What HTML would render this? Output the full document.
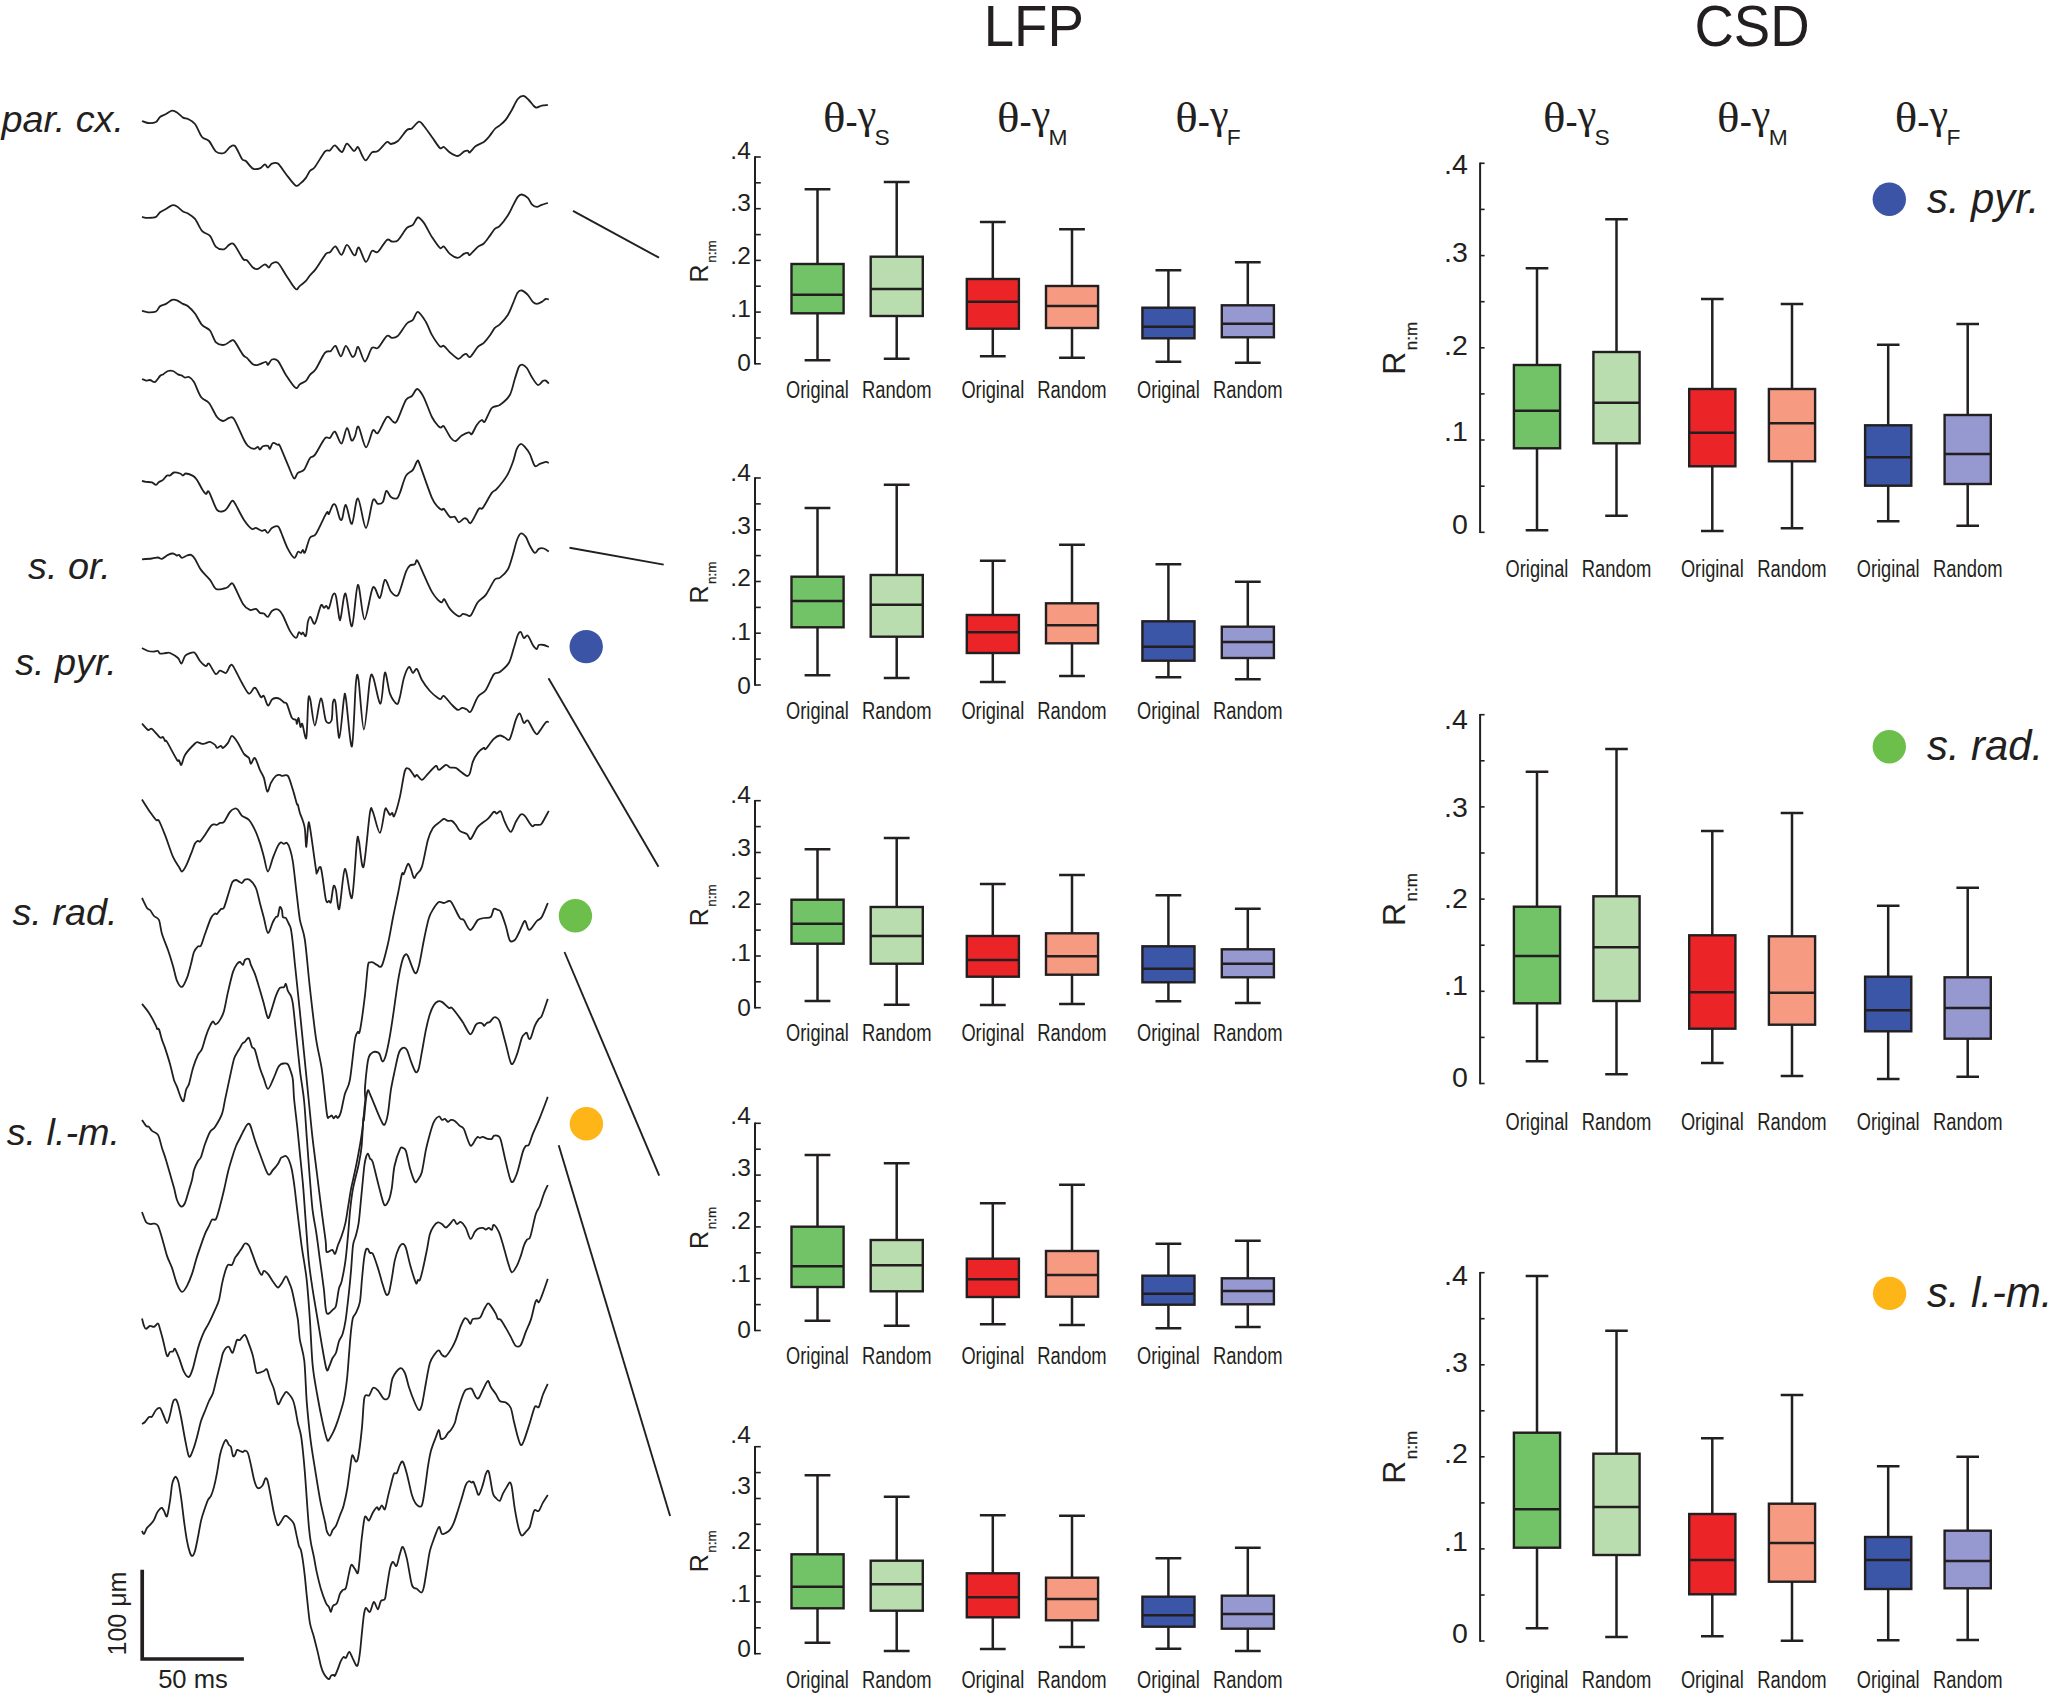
<!DOCTYPE html>
<html><head><meta charset="utf-8"><title>LFP / CSD phase coupling</title>
<style>html,body{margin:0;padding:0;background:#fff}svg{display:block}</style></head>
<body>
<svg width="2051" height="1696" viewBox="0 0 2051 1696">
<rect width="2051" height="1696" fill="#fff"/>
<g fill="none" stroke="#231f20" stroke-width="1.8" stroke-linejoin="round" stroke-linecap="butt">
<path d="M142,121C142.9,121.3 145.8,122.8 148,123C150.2,123.2 154.2,122.9 156,122C157.8,121.1 158.5,118.2 160,117C161.5,115.8 164.2,115 166,114C167.8,113 170.3,110.8 172,110.6C173.7,110.4 175.3,111.3 177,112.4C178.7,113.5 181.3,116.6 183,117.6C184.7,118.6 186.2,118 188,119C189.8,120 192.8,121.2 195,124C197.2,126.8 199.8,134.4 202,137C204.2,139.6 206.8,138.8 209,141C211.2,143.2 213.7,149.8 216,151.6C218.3,153.4 221.8,153.7 224,153C226.2,152.3 228.3,148.1 230,147C231.7,145.9 233.2,144.2 235,146C236.8,147.8 240.3,156.7 242,159C243.7,161.3 244.2,159.5 245.9,161C247.6,162.5 250.7,167.5 252.9,168.6C255.1,169.7 258.1,169 259.9,168.4C261.7,167.8 263.7,164.5 264.9,164.4C266.1,164.3 266.8,167.7 267.9,167.6C269,167.5 270.4,164.2 271.9,163.6C273.4,163 275.7,162 277.9,163.6C280.1,165.2 283.2,170.6 285.9,174C288.6,177.4 293.3,184 295.5,185.5C297.7,187 298.3,185.1 299.9,183.9C301.5,182.7 304.4,179.9 305.9,177.9C307.4,175.9 308.5,172.7 309.9,171C311.3,169.3 312.6,170 314.9,167C317.2,164 322.6,154.2 324.9,151.6C327.2,149 328.4,151.4 329.9,150.4C331.4,149.4 333.1,145.2 334.9,145.4C336.7,145.6 340.1,152.3 341.9,152C343.7,151.7 345.1,143.8 346.9,143.6C348.7,143.4 352.2,150.5 353.9,151C355.6,151.5 356.7,146.4 357.9,147C359.1,147.6 360.7,152.9 361.9,155C363.1,157.1 364.4,160.8 365.9,160.4C367.4,160 370.1,153.8 371.9,152.4C373.7,151 375.6,152.6 377.9,151C380.2,149.4 384.9,143.1 386.9,142C388.9,140.9 389.2,144.2 390.9,144C392.6,143.8 395.4,143.2 397.9,141C400.4,138.8 404.7,131.9 406.9,130C409.1,128.1 410.1,129.7 411.9,128.4C413.7,127.1 417.1,122 418.9,121.6C420.7,121.2 421.9,123.6 423.9,126C425.9,128.4 429.4,133.6 431.9,137C434.4,140.4 438.1,146.5 439.9,148C441.7,149.5 442.4,146.3 443.9,147C445.4,147.7 447.8,151 449.9,152.4C452,153.8 455.7,156.1 457.8,156C459.9,155.9 462.3,152.4 463.8,151.6C465.3,150.8 466.9,150.5 467.8,150.6C468.7,150.7 468.6,153.1 469.8,152.4C471,151.7 473.6,147.6 475.8,146C478,144.4 481.8,143.4 483.8,142C485.8,140.6 487.1,139 488.8,137C490.5,135 493.1,130.8 494.8,129C496.5,127.2 498.1,126.8 499.8,125.4C501.5,124 504,122 505.8,119.6C507.6,117.2 510,113.2 511.8,110C513.6,106.8 516,101.2 517.8,99C519.6,96.8 522.1,95.8 523.8,96C525.5,96.2 527.3,98.5 528.8,100C530.3,101.5 532.6,104.8 533.8,106C535,107.2 535.6,107.7 536.8,107.6C538,107.5 540.1,106 541.8,105.6C543.5,105.2 546.9,105.1 547.8,105"/>
<path d="M142,216.9C142.9,217.1 145.8,217.9 148,217.9C150.2,217.9 154.2,217.8 156,216.9C157.8,216 158.5,213.5 160,212.3C161.5,211.1 164.2,210 166,208.9C167.8,207.8 170.3,205.7 172,205.3C173.7,204.9 175.3,205.5 177,206.5C178.7,207.5 181.3,210.4 183,211.5C184.7,212.6 186.2,212.4 188,213.5C189.8,214.6 192.8,216.2 195,218.9C197.2,221.6 199.7,228.3 202,230.9C204.3,233.5 207.8,233.4 210,235.9C212.2,238.4 213.8,244.8 216,246.9C218.2,249 222,249.6 224,249.3C226,249 227.5,245.7 229,244.9C230.5,244.1 231.8,242.1 234,244.3C236.2,246.5 241,256.4 243,258.9C245,261.4 245.4,259 246.9,260.3C248.4,261.6 251.2,266.2 252.9,267.5C254.6,268.8 256.1,269.4 257.9,268.9C259.7,268.4 263.2,264.5 264.9,264.3C266.6,264.1 267.8,267.6 268.9,267.5C270,267.4 270.5,264.2 271.9,263.5C273.3,262.8 275.7,261.1 277.9,262.9C280.1,264.7 283.2,270.9 285.9,274.9C288.6,278.9 293.3,287.2 295.5,288.9C297.7,290.6 298.3,287.1 299.9,285.9C301.5,284.7 304.4,282.5 305.9,280.9C307.4,279.3 308.4,277.3 309.9,275.5C311.4,273.7 313.4,272.2 315.9,268.9C318.4,265.6 323.7,256.5 325.9,253.9C328.1,251.3 328.4,253.4 329.9,252.3C331.4,251.2 333.7,246.1 335.5,246.5C337.3,246.9 339.7,255.1 341.5,254.9C343.3,254.7 345.1,245.1 346.9,244.9C348.7,244.7 351.6,252.4 352.9,253.9C354.2,255.4 354.6,255.9 355.5,254.9C356.4,253.9 357.3,246.4 358.9,247.5C360.5,248.6 363.9,261.4 365.9,261.9C367.9,262.4 370.1,252.4 371.9,250.9C373.7,249.4 375.6,253.6 377.9,251.9C380.2,250.2 384.7,241.5 386.9,239.9C389.1,238.3 390.2,241.4 391.9,241.5C393.6,241.6 395.6,242.4 397.9,240.3C400.2,238.2 404.6,230.3 406.9,227.9C409.2,225.5 411.2,226.5 412.9,224.9C414.6,223.3 416.2,217.8 417.9,217.5C419.6,217.2 421.7,219.9 423.9,222.9C426.1,225.9 429.4,233.1 431.9,236.9C434.4,240.7 438.1,246.4 439.9,247.9C441.7,249.4 442.4,245.6 443.9,246.5C445.4,247.4 447.8,252.1 449.9,253.9C452,255.7 455.7,257.9 457.8,257.9C459.9,257.9 462.3,254.7 463.8,253.9C465.3,253.1 466.9,252.7 467.8,252.9C468.7,253.1 468.3,255.8 469.8,254.9C471.3,254 475.6,248.7 477.8,246.9C480,245.1 482,245.2 483.8,243.5C485.6,241.8 488.1,238.1 489.8,235.9C491.5,233.7 493.3,230.4 494.8,228.9C496.3,227.4 497.8,228 499.8,225.9C501.8,223.8 505.8,218.6 507.8,215.5C509.8,212.4 511.3,208.8 512.8,205.9C514.3,203 516.4,198.7 517.8,196.9C519.2,195.1 520.3,194.3 521.8,194.5C523.3,194.7 526.3,196.4 527.8,197.9C529.3,199.4 530.4,202.9 531.8,204.3C533.2,205.7 535.3,206.8 536.8,206.9C538.3,207 540.1,205.5 541.8,204.9C543.5,204.3 546.9,203.2 547.8,202.9"/>
<path d="M142,310.9C142.9,311.1 145.8,312.2 148,312.3C150.2,312.4 154.2,312.4 156,311.5C157.8,310.6 158.5,307.5 160,306.3C161.5,305.1 164.2,304.9 166,303.9C167.8,302.9 170.3,300.5 172,299.9C173.7,299.3 175.3,299.7 177,300.3C178.7,300.9 181.3,303 183,303.9C184.7,304.8 186.2,304.8 188,306.3C189.8,307.8 192.8,310.6 195,313.5C197.2,316.4 199.7,322.3 202,324.9C204.3,327.5 207.8,327.8 210,330.5C212.2,333.2 213.8,340.1 216,342.3C218.2,344.5 221.5,345.2 224,344.9C226.5,344.6 230.3,340.8 232,340.3C233.7,339.8 233.3,339.7 235,341.9C236.7,344.1 241.2,352.4 243,354.9C244.8,357.4 245.4,356.5 246.9,357.9C248.4,359.3 251.2,363.2 252.9,364.3C254.6,365.4 255.9,365.3 257.9,364.9C259.9,364.5 264.4,361.9 265.9,361.9C267.4,361.9 267,365.3 267.9,364.9C268.8,364.5 270.4,360.1 271.9,359.5C273.4,358.9 275.7,358.5 277.9,360.9C280.1,363.3 283.2,370.8 285.9,374.9C288.6,379 293.3,386.4 295.5,387.8C297.7,389.2 298.3,385.3 299.9,384.2C301.5,383.1 304.4,382.3 305.9,380.9C307.4,379.5 308.4,376.7 309.9,374.9C311.4,373.1 313.6,372.3 315.9,368.9C318.2,365.5 322.6,355.7 324.9,352.9C327.2,350.1 329.3,352 330.9,350.9C332.5,349.8 334,345.1 335.5,345.9C337,346.7 339.3,356.3 340.9,356.3C342.5,356.3 344.2,345.9 345.9,345.9C347.6,345.9 350.5,354.9 351.9,356.3C353.3,357.7 353.9,356.3 354.9,354.9C355.9,353.5 356.8,345.9 358.3,346.9C359.8,347.9 362.8,361.3 364.9,361.5C367,361.7 369.9,350 371.9,347.9C373.9,345.8 375.6,349.7 377.9,347.9C380.2,346.1 384.7,337.4 386.9,335.9C389.1,334.4 390.2,337.9 391.9,337.9C393.6,337.9 395.6,338.1 397.9,335.9C400.2,333.7 404.6,326 406.9,323.5C409.2,321 411.2,321.7 412.9,319.9C414.6,318.1 415.9,311.6 417.9,311.9C419.9,312.2 423.7,318.4 425.9,321.9C428.1,325.4 429.7,331.1 431.9,334.9C434.1,338.7 438.1,344.6 439.9,346.3C441.7,348 442.4,345 443.9,345.9C445.4,346.8 447.7,350.3 449.9,352.3C452.1,354.3 456.2,358.4 458.2,358.9C460.2,359.4 461.6,356.3 462.8,355.5C464,354.7 465.1,353.7 466.2,353.9C467.3,354.1 468.4,358 470.2,356.9C472,355.8 475.7,349.1 477.8,346.9C479.9,344.7 482,344.7 483.8,342.9C485.6,341.1 488.1,337.8 489.8,335.5C491.5,333.2 493.3,329.6 494.8,327.9C496.3,326.2 497.8,326.3 499.8,324.3C501.8,322.3 505.8,318 507.8,314.9C509.8,311.8 511.3,307.3 512.8,303.9C514.3,300.5 516,295 517.4,292.9C518.8,290.8 520.2,290.2 521.8,290.5C523.4,290.8 526.1,293.1 527.8,294.9C529.5,296.7 531.4,300.5 532.8,301.9C534.2,303.3 535.4,303.9 536.8,303.9C538.2,303.9 540.4,302.7 541.8,301.9C543.2,301.1 544.7,299.3 545.8,298.9C546.9,298.5 548.3,299.4 548.8,299.5"/>
<path d="M142,379C142.6,379.2 144.8,380.4 146,380.6C147.2,380.8 148.6,379.8 150,380C151.4,380.2 153.5,382.6 155,382C156.5,381.4 158.8,377.2 160,376C161.2,374.8 161.8,375.2 163,374.4C164.2,373.6 166.5,371.5 168,371C169.5,370.5 171.5,370.5 173,371C174.5,371.5 176.6,373.7 178,374.4C179.4,375.1 180.9,375.1 182,375.6C183.1,376.1 183.9,377.4 185,377.6C186.1,377.8 187.6,376.3 189,377C190.4,377.7 192.2,378.9 194,382C195.8,385.1 198.7,393.8 201,397C203.3,400.2 206.5,399.9 209,403C211.5,406.1 214.8,414.2 217,417C219.2,419.8 221.2,420.8 223,421C224.8,421.2 227.3,418.3 229,418C230.7,417.7 231.7,415.6 234,419C236.3,422.4 241.9,435.9 244,440C246.1,444.1 246.4,444.5 247.9,445.9C249.4,447.3 252.4,448.7 253.9,448.9C255.4,449.1 257,446.8 257.9,446.9C258.8,447 259.1,449.6 259.9,449.5C260.7,449.4 261.7,446.9 262.9,446.3C264.1,445.7 266.8,445.5 267.9,445.9C269,446.3 269.1,449.3 269.9,448.9C270.7,448.5 271.7,443.6 272.9,443C274.1,442.4 276.8,444.5 277.9,444.9C279,445.3 278.4,442.8 279.9,445.9C281.4,449 285.7,459.9 287.9,464.9C290.1,469.9 292.4,477.1 293.9,478.3C295.4,479.5 296.4,474.2 297.9,472.9C299.4,471.6 302.1,472.1 303.9,469.9C305.7,467.7 308.2,460.6 309.9,458.3C311.6,456 312.6,458 314.9,454.9C317.2,451.8 322.6,441 324.9,438.4C327.2,435.8 328.4,439 329.9,438C331.4,437 333.1,430.7 334.9,431.6C336.7,432.5 339.7,444.2 341.5,443.6C343.3,443 345.4,428.5 346.9,428C348.4,427.5 350.3,439.1 351.5,440.4C352.7,441.7 353.8,438.5 354.9,436.4C356,434.3 356.8,424.9 358.5,426.6C360.2,428.3 363.7,446.7 365.9,447.3C368.1,447.9 371.1,432.6 372.9,430.4C374.7,428.2 375.7,435.1 377.9,433C380.1,430.9 384.6,418.8 386.9,417C389.2,415.2 391.4,421 392.9,421.6C394.4,422.2 394.9,424.3 396.9,421C398.9,417.7 403.6,403.8 405.9,400C408.2,396.2 410.1,397.7 411.9,396C413.7,394.3 415.5,388.8 417.3,389C419.1,389.2 421.7,393.3 423.9,397.6C426.1,401.9 429.7,412.7 431.9,417C434.1,421.3 436.5,424 437.9,425.6C439.3,427.2 440,427.5 440.9,427.6C441.8,427.7 442.4,424.8 443.9,426.4C445.4,428 449.1,435.8 450.9,438C452.7,440.2 454.1,441.4 455.8,441C457.5,440.6 459.8,436.9 461.8,435.6C463.8,434.3 467.3,432.6 468.8,432.4C470.3,432.2 470.6,435.1 471.8,434C473,432.9 475.3,427.2 476.8,425C478.3,422.8 480.6,420.5 481.8,420C483,419.5 483.3,423.4 484.8,421.6C486.3,419.8 489.5,410.6 491.8,408C494.1,405.4 497,407 499.8,405C502.6,403 507.5,399 509.8,395C512.1,391 513.4,383.3 514.8,379C516.2,374.7 517.7,369.2 518.8,367C519.9,364.8 521,364.4 522.2,364.6C523.4,364.8 525.3,366.1 526.8,368C528.3,369.9 530.1,374.4 531.8,377C533.5,379.6 536.1,384.4 537.8,385C539.5,385.6 541.6,381.7 542.8,381C544,380.3 544.9,380.2 545.8,380.6C546.7,381 548.3,383.1 548.8,383.6"/>
<path d="M142,480.9C142.6,481.1 144.5,481.7 146,481.9C147.5,482.1 150.5,481.8 152,482.3C153.5,482.8 154.9,485 156,484.9C157.1,484.8 157.9,482.7 159,481.9C160.1,481.1 161.8,480.9 163,479.9C164.2,478.9 165.9,476.2 167,475.5C168.1,474.8 168.9,476 170,475.5C171.1,475 172.5,472.8 174,472.5C175.5,472.2 178.6,473 180,473.5C181.4,474 182.1,475.5 183,475.5C183.9,475.5 184.5,473.4 186,473.5C187.5,473.6 191.3,474.9 193,475.9C194.7,476.9 195.6,477.9 197,479.9C198.4,481.9 200.6,486.7 202,488.9C203.4,491.1 204.9,493.4 206,493.9C207.1,494.4 207.3,489.4 209,491.9C210.7,494.4 214.7,507 217,509.9C219.3,512.8 222.3,511.4 224,510.9C225.7,510.4 226.8,508.4 228,506.9C229.2,505.4 230.9,501.4 232,500.9C233.1,500.4 233.2,500.6 235,503.5C236.8,506.4 241.4,516 244,519.9C246.6,523.8 250.1,527.7 251.9,528.9C253.7,530.1 254.4,527.6 255.9,527.9C257.4,528.2 260.5,530.6 261.9,530.9C263.3,531.2 264,529.6 264.9,529.9C265.8,530.2 266.8,533.2 267.9,532.9C269,532.6 270.4,528.9 271.9,527.9C273.4,526.9 276.5,525.7 277.9,526.3C279.3,526.9 279.4,528.4 280.9,531.9C282.4,535.4 285.8,544.9 287.9,548.9C290,552.9 292.8,557.4 294.3,557.9C295.8,558.4 296.9,552.7 297.9,551.9C298.9,551.1 300.1,553.2 300.9,552.9C301.7,552.6 302.3,550 302.9,549.9C303.5,549.8 303.8,554.3 304.9,552.5C306,550.7 308.2,540.8 309.9,537.9C311.6,535 313.6,537.3 315.9,533.9C318.2,530.5 323.1,519.3 324.9,515.9C326.7,512.5 326.9,512.2 327.5,511.9C328.1,511.6 328.1,515 328.9,513.9C329.7,512.8 331.8,506.1 332.9,504.9C334,503.7 334.8,503.7 335.9,505.9C337,508.1 338.9,517 339.9,518.9C340.9,520.8 341.4,520.5 342.3,518.3C343.2,516.1 344.4,504 345.9,504.9C347.4,505.8 350.1,524.9 351.9,523.9C353.7,522.9 355.7,497.7 357.9,498.3C360.1,498.9 363.6,527.6 365.9,527.9C368.2,528.2 371.1,504 372.9,500.3C374.7,496.6 376.4,503.7 377.9,503.9C379.4,504.1 381.6,503.9 382.9,501.9C384.2,499.9 385.1,491.7 386.3,490.9C387.5,490.1 389.3,495.8 390.9,496.9C392.5,498 395.5,498.9 396.9,498.3C398.3,497.7 398.5,496.3 399.9,492.9C401.3,489.5 403.9,479.4 405.9,475.9C407.9,472.4 411.1,472.2 412.9,469.9C414.7,467.6 416.2,461.7 417.3,460.9C418.4,460.1 417.7,459.2 419.9,464.9C422.1,470.6 429.1,491.4 431.9,497.9C434.7,504.4 436.4,505.1 437.9,506.9C439.4,508.7 441,509.6 441.9,509.9C442.8,510.2 442.7,507.8 443.9,508.9C445.1,510 448.2,515.7 449.9,516.9C451.6,518.1 453.4,516.1 454.8,516.9C456.2,517.7 457.4,522.1 458.8,522.3C460.2,522.5 462.6,519 463.8,518.5C465,518 465.7,518.2 466.8,518.9C467.9,519.6 469,524.4 470.8,522.9C472.6,521.4 477,511.2 478.8,508.9C480.6,506.6 480.8,510.4 482.8,507.9C484.8,505.4 489.6,495.8 491.8,492.9C494,490 494.5,491.5 496.8,488.9C499.1,486.3 504.3,480 506.8,475.9C509.3,471.8 511.3,466.5 512.8,462.3C514.3,458.1 515.6,451.7 516.8,448.9C518,446.1 519.6,444.3 520.8,444C522,443.7 523.4,445.4 524.8,446.9C526.2,448.4 528.3,451 529.8,453.9C531.3,456.8 533.3,464.4 534.8,465.9C536.3,467.4 538.1,464.5 539.8,463.9C541.5,463.3 544.4,462.1 545.8,461.9C547.2,461.7 548.3,462.7 548.8,462.9"/>
<path d="M142,559.3C143.5,559.2 149.5,558.8 152,558.5C154.5,558.2 156.5,557.4 158,557.5C159.5,557.6 160.5,559.3 162,558.9C163.5,558.5 166.3,555.7 168,554.9C169.7,554.1 171.6,553.4 173,553.5C174.4,553.6 176.1,555.3 177,555.5C177.9,555.7 178.2,554.5 179,554.9C179.8,555.3 180.8,557.8 182,557.9C183.2,558 185.6,556 187,555.5C188.4,555 189.8,554.4 191,554.9C192.2,555.4 193.5,556.6 195,558.9C196.5,561.2 198.7,566.7 201,569.9C203.3,573.1 207.7,577 210,579.9C212.3,582.8 213.8,587.6 216,588.9C218.2,590.2 222.2,588.8 224,588.5C225.8,588.2 226.8,587.7 228,586.9C229.2,586.1 230.7,583.5 231.6,583.3C232.5,583.1 232.2,582.3 234,585.5C235.8,588.7 240.6,600.1 243,603.9C245.4,607.7 247.9,609.1 249.9,609.9C251.9,610.7 254.4,608.4 255.9,608.9C257.4,609.4 258.7,612.2 259.9,612.9C261.1,613.6 262.7,612.9 263.9,613.5C265.1,614.1 266.7,617.3 267.9,616.9C269.1,616.5 270.4,612 271.9,610.9C273.4,609.8 276.2,608.8 277.9,609.5C279.6,610.2 281.1,612.2 282.9,615.5C284.7,618.8 287.9,627.5 289.9,630.9C291.9,634.3 294.5,637.7 295.9,637.9C297.3,638.1 298,632.9 298.9,632.3C299.8,631.7 300.9,634.3 301.5,634.3C302.1,634.3 302.2,632.3 302.9,632.5C303.6,632.7 305.1,637.5 305.9,635.9C306.7,634.3 307.2,624.8 307.9,621.9C308.6,619 309.4,616.7 310.5,616.9C311.6,617.1 313.3,625.3 314.9,623.5C316.5,621.7 319.5,607.9 320.9,605.5C322.3,603.1 323.1,607.8 323.9,607.9C324.7,608 325.5,605.8 326.3,605.9C327.1,606 327.9,610 328.9,608.3C329.9,606.6 331.8,596.8 332.9,594.9C334,593 334.9,592.3 335.9,595.9C336.9,599.5 338.5,615.1 339.3,618.3C340.1,621.5 339.9,620.7 340.9,616.9C341.9,613.1 343.8,592.1 345.5,593.5C347.2,594.9 350,627.6 351.9,626.3C353.8,625 356,586 357.9,584.9C359.8,583.8 362.2,618.9 364.5,619.3C366.8,619.7 370.5,590.8 372.9,587.5C375.3,584.2 378.1,599.1 379.9,597.9C381.7,596.7 383.2,580.9 384.9,579.9C386.6,578.9 389.1,589 390.9,591.5C392.7,594 395.5,596 396.9,595.9C398.3,595.8 398.5,594.6 399.9,590.9C401.3,587.2 404.4,575.8 405.9,571.9C407.4,568 408.5,566.7 409.9,565.5C411.3,564.3 413.8,565.1 414.9,564.3C416,563.5 415.9,558.9 417.3,560.5C418.7,562.1 421.7,570.1 423.9,574.9C426.1,579.7 429.7,588.1 431.9,591.9C434.1,595.7 436.4,598.3 437.9,599.9C439.4,601.5 440.9,602.4 441.9,602.3C442.9,602.2 443.1,598.3 444.3,599.3C445.5,600.3 447.7,606.3 449.9,608.9C452.1,611.5 456.8,615.5 458.8,616.3C460.8,617.1 461.6,614.1 462.8,613.9C464,613.7 465.6,614.7 466.8,614.9C468,615.1 469.1,617.2 470.8,615.3C472.5,613.4 475.5,605.4 477.8,602.3C480.1,599.2 483.2,598.4 485.8,594.9C488.4,591.4 492.6,582.1 494.8,579.5C497,576.9 497.8,579.4 499.8,577.9C501.8,576.4 505.8,573 507.8,569.5C509.8,566 511.4,559.4 512.8,554.9C514.2,550.4 515.6,543.8 516.8,540.5C518,537.2 519.4,534.1 520.8,533.5C522.2,532.9 524.4,535.1 525.8,536.9C527.2,538.7 528.4,543 529.8,545.5C531.2,548 533.4,552.4 534.8,552.9C536.2,553.4 537.4,549.6 538.8,548.9C540.2,548.2 542.3,548.1 543.8,548.5C545.3,548.9 548,551 548.8,551.5"/>
<path d="M142,648C142.9,648.5 146.2,650.4 148,651C149.8,651.6 152.5,651.6 154,651.6C155.5,651.6 157.1,650.7 158,651C158.9,651.3 158.8,653.3 160,653.6C161.2,653.9 164.5,653.1 166,653C167.5,652.9 168.2,652.2 170,653C171.8,653.8 176.2,656.4 178,658C179.8,659.6 180.3,663.9 181.4,663.6C182.5,663.3 183.8,657.5 185,656C186.2,654.5 187.6,654.1 189,653.6C190.4,653.1 192.7,651.5 194.4,652.6C196.1,653.7 198.5,659.1 200,661C201.5,662.9 203,664.2 204,665C205,665.8 205.6,666.2 206.4,666C207.2,665.8 207.6,662.4 209,663.6C210.4,664.8 213.9,672.9 215.6,674C217.3,675.1 218.4,670.8 220,670.6C221.6,670.4 224.5,673.7 226,673C227.5,672.3 228.9,667.1 230,666C231.1,664.9 231.2,663.4 233,666C234.8,668.6 239.6,678.8 242,683C244.4,687.2 247.1,692.8 248.9,693.6C250.7,694.4 252.8,688.7 253.9,688C255,687.3 255.2,687.6 256.3,689C257.4,690.4 259.7,695.9 260.9,697C262.1,698.1 262.8,694.7 263.9,696C265,697.3 266.7,704.9 267.9,705.5C269.1,706.1 270.7,700.8 271.9,699.6C273.1,698.4 274.7,698.1 275.9,698C277.1,697.9 278.7,698.3 279.9,699C281.1,699.7 282.8,701.6 283.9,702.4C285,703.2 285.7,701.6 286.9,704C288.1,706.4 290.5,715.5 291.9,717.9C293.3,720.3 295.1,719 295.9,719.9C296.7,720.8 296.5,724.2 296.9,723.9C297.3,723.6 297.9,717.4 298.5,717.9C299.1,718.4 299.9,726 300.5,726.9C301.1,727.8 301.4,722.2 302.3,723.9C303.2,725.6 305.4,741.6 306.3,737.9C307.2,734.2 307.7,705.9 308.3,700C308.9,694.1 309.3,695.7 310.3,699.6C311.3,703.5 313.3,725.7 314.9,725.5C316.5,725.3 319.2,699.1 320.9,698.4C322.6,697.7 324.3,717.5 325.9,720.9C327.5,724.3 330.4,723.3 331.5,720.5C332.6,717.7 332.3,705.4 332.9,702.6C333.5,699.8 334.5,697.2 335.5,702.6C336.5,708 338,738.5 339.3,737.9C340.6,737.3 342.9,705.1 343.9,699C344.9,692.9 344.7,691.1 345.9,698.4C347.1,705.7 350.4,748.9 351.9,746.5C353.4,744.1 354.9,693.3 355.9,683C356.9,672.7 357.3,672.4 358.5,679.6C359.7,686.8 362.1,729.4 363.9,729.5C365.7,729.6 368.5,688 369.9,680C371.3,672 371.7,674 373.3,677.6C374.9,681.2 378.7,704.4 380.5,703.6C382.3,702.8 383.5,674.1 384.9,672.6C386.3,671.1 388.1,688.8 389.9,693.6C391.7,698.4 395.4,703.5 396.9,704C398.4,704.5 398.8,701 399.9,697C401,693 402.5,682.6 403.9,678C405.3,673.4 407.5,667.8 408.9,667C410.3,666.2 411.7,672.7 412.9,673C414.1,673.3 415.5,667.9 416.9,669C418.3,670.1 419.9,676.6 421.9,680C423.9,683.4 427.4,688.2 429.9,691C432.4,693.8 436.2,696.8 437.9,698C439.6,699.2 440,699.3 440.9,699C441.8,698.7 442.2,695.1 443.9,696C445.6,696.9 449.8,702.8 451.9,704.9C454,707 456.2,709.4 457.8,709.9C459.4,710.4 460.8,708 462.2,707.9C463.6,707.8 465.5,708.9 466.8,709.5C468.1,710.1 469.1,713.4 470.8,711.5C472.5,709.6 475.5,700.3 477.8,697C480.1,693.7 483.3,693.5 485.8,690C488.3,686.5 491.6,677.2 493.8,674.4C496,671.6 497.5,673.8 499.8,672C502.1,670.2 506.6,666.7 508.8,663C511,659.3 512.4,652.3 513.8,648C515.2,643.7 516.7,637.5 517.8,635C518.9,632.5 519.9,631.5 520.8,632C521.7,632.5 522.7,637.4 523.8,638C524.9,638.6 526.4,634.5 527.8,635.6C529.2,636.7 531.4,642.9 532.8,645C534.2,647.1 535.9,649 536.8,649C537.7,649 537.7,645.6 538.8,645C539.9,644.4 542.3,644.7 543.8,645C545.3,645.3 548,646.7 548.8,647"/>
<path d="M142,723.5C142.9,724.5 146.5,729.1 148,729.9C149.5,730.7 150.2,727.7 152,728.9C153.8,730.1 158.3,736.3 160,737.5C161.7,738.7 162.2,736.4 163,736.9C163.8,737.4 164.4,740.1 165,740.9C165.6,741.7 165.2,739 167,741.9C168.8,744.8 175.2,757.1 177,759.9C178.8,762.7 178.3,759.5 179,760.3C179.7,761.1 180.5,765.7 181.4,764.9C182.3,764.1 182.9,758.2 185,754.9C187.1,751.6 193,745.4 195,743.5C197,741.6 196.9,742.2 198,742.3C199.1,742.4 200.9,743.7 202,743.9C203.1,744.1 203.8,743.8 205,743.5C206.2,743.2 208.5,741.7 210,741.9C211.5,742.1 213.9,744 215,744.9C216.1,745.8 216.1,747.7 217,747.9C217.9,748.1 220.1,745.9 221,745.9C221.9,745.9 221.9,748.4 223,747.9C224.1,747.4 226.6,744.7 228,742.9C229.4,741.1 230.5,735.9 232,735.9C233.5,735.9 236.2,740.1 238,742.9C239.8,745.7 242.3,751.6 244,753.9C245.7,756.2 247.8,756.4 248.9,757.9C250,759.4 250,763.9 250.9,763.9C251.8,763.9 253.5,757 254.9,757.9C256.3,758.8 258.5,766.8 259.9,769.9C261.3,773 262.8,774.6 263.9,777.9C265,781.2 266.2,790.7 267.3,791.5C268.4,792.3 269.6,785.3 270.9,782.9C272.2,780.5 274.5,777.1 275.9,775.9C277.3,774.7 279,774.9 279.9,774.9C280.8,774.9 280.7,775.7 281.9,775.9C283.1,776.1 286.2,773.7 287.9,775.9C289.6,778.1 291.5,785.6 292.9,789.9C294.3,794.2 296.1,801.6 296.9,803.9C297.7,806.2 297.4,803.5 297.9,804.9C298.4,806.3 299.1,810.4 299.9,812.9C300.7,815.4 302.1,818.4 302.9,820.9C303.7,823.4 304.4,824.9 304.9,828.9C305.4,832.9 305.8,847.5 306.3,846.9C306.8,846.3 307.7,828 308.3,824.9C308.9,821.8 308.7,820.1 309.9,826.9C311.1,833.7 314.8,861.8 315.9,868.9C317,876 316.1,873.1 316.9,872.9C317.7,872.7 319.5,863.7 320.9,867.9C322.3,872.1 324.7,894.8 325.9,899.9C327.1,905 328.1,900.6 328.9,900.9C329.7,901.2 330.2,904.1 330.9,901.9C331.6,899.7 332.7,888.1 333.5,886.3C334.3,884.5 335,886.4 335.9,889.9C336.8,893.4 337.9,912.1 339.3,908.9C340.7,905.7 343,870.6 344.9,868.9C346.8,867.2 350.1,902.1 351.9,897.9C353.7,893.7 355.8,850.7 356.9,841.9C358,833.1 357.9,837.1 358.9,840.9C359.9,844.7 361.8,871.2 363.5,866.9C365.2,862.6 368.5,821.4 369.9,812.9C371.3,804.4 371.4,808.8 372.9,811.9C374.4,815 378.1,833.2 379.9,832.9C381.7,832.6 383.8,813.4 384.9,809.9C386,806.4 386.1,809.1 386.9,809.9C387.7,810.7 389.1,814.4 389.9,814.9C390.7,815.4 391.6,812.7 392.3,812.9C393,813.1 393.1,818.4 394.3,815.9C395.5,813.4 398.3,803.8 399.9,796.9C401.5,790 403.5,775.2 404.9,770.9C406.3,766.6 407.7,768.4 408.9,768.9C410.1,769.4 412,772.7 412.9,773.9C413.8,775.1 414.3,776.7 414.9,776.9C415.5,777.1 415.8,774.4 416.9,774.9C418,775.4 420.2,780.1 421.9,779.9C423.6,779.7 425.7,776.1 427.9,773.9C430.1,771.7 434.2,766.5 435.9,765.9C437.6,765.3 437.4,770.1 438.9,769.9C440.4,769.7 444.2,765.3 445.9,764.9C447.6,764.5 448.4,767 449.9,767.5C451.4,768 454.3,767.4 455.8,767.9C457.3,768.4 458.1,769.7 459.8,770.9C461.5,772.1 465.3,775.5 466.8,775.9C468.3,776.3 468.9,775.7 469.8,773.5C470.7,771.3 471.6,765.1 472.8,761.9C474,758.7 476.1,755.1 477.8,752.9C479.5,750.7 482.6,748.5 483.8,747.9C485,747.3 484.3,750.3 485.8,748.9C487.3,747.5 491.6,741 493.8,738.9C496,736.8 498.1,735.7 499.8,735.5C501.5,735.3 503.3,737 504.8,737.5C506.3,738 508.1,741.6 509.8,738.9C511.5,736.2 514.3,723.8 515.8,719.9C517.3,716 518.6,713 519.8,713.5C521,714 522.6,721.8 523.8,722.9C525,724 526.3,719.3 527.8,720.5C529.3,721.7 532.4,728.8 533.8,730.9C535.2,733 535.9,734.3 536.8,734.3C537.7,734.3 538.4,732.7 539.8,730.9C541.2,729.1 544.4,723.7 545.8,722.3C547.2,720.9 548.3,722 548.8,721.9"/>
<path d="M142,799.5C143.2,801.4 147.8,808.8 150,811.9C152.2,815 154.6,818.5 156,819.9C157.4,821.3 157.6,818.6 159,820.9C160.4,823.2 162.8,829.4 165,834.9C167.2,840.4 170.8,852 173,856.9C175.2,861.8 177.6,864.7 179,866.9C180.4,869.1 180.9,871.7 182,871.5C183.1,871.3 184.6,868.6 186,865.9C187.4,863.2 189.6,857.3 191,853.9C192.4,850.5 193.9,845.5 195,843.5C196.1,841.5 197.2,841.2 198,840.9C198.8,840.6 198.9,842.4 200,841.5C201.1,840.6 203.3,837.3 205,834.9C206.7,832.5 209.6,827.5 211,825.9C212.4,824.3 213.1,824.5 214,824.3C214.9,824.1 216.1,825.1 217,824.9C217.9,824.7 218.9,823.4 220,822.9C221.1,822.4 222.5,823.6 224,821.9C225.5,820.2 228.3,814 230,811.9C231.7,809.8 233.8,808.8 235,808.5C236.2,808.2 236.9,808.8 238,809.9C239.1,811 240.3,814.4 242,815.9C243.7,817.4 246.9,817.7 248.9,819.9C250.9,822.1 253.2,826.4 254.9,829.9C256.6,833.4 258.5,838.7 259.9,842.9C261.3,847.1 262.7,852.5 263.9,856.9C265.1,861.3 266.5,871.3 267.9,871.5C269.3,871.7 271.4,861.8 272.9,857.9C274.4,854 276.7,848.3 277.9,845.9C279.1,843.5 280,842.6 280.9,842.3C281.8,842 283,843.8 283.9,843.9C284.8,844 286,842.1 286.9,842.9C287.8,843.7 289,846 289.9,848.9C290.8,851.8 291.8,854.7 292.9,861.9C294,869.1 295.8,887 296.9,895.9C298,904.8 298.7,913 299.9,919.8C301.1,926.6 303.4,929.5 304.9,940C306.4,950.5 308.2,972.8 309.9,987.9C311.6,1003 314.1,1025.3 315.9,1037.9C317.7,1050.5 320.2,1058.2 321.9,1069.9C323.6,1081.6 325.8,1106.7 326.9,1113.9C328,1121.1 328.1,1116.7 328.9,1116.9C329.7,1117.1 331.2,1115.3 331.9,1115.5C332.6,1115.7 332.9,1118.2 333.5,1118.3C334.1,1118.4 335.2,1116 335.9,1115.9C336.6,1115.8 337.1,1118.5 337.9,1117.9C338.7,1117.3 339.8,1115.6 340.9,1111.9C342,1108.2 343.5,1098.8 344.9,1093.9C346.3,1089 348.4,1088.2 349.9,1079.9C351.4,1071.6 353.7,1047.3 354.9,1039.9C356.1,1032.5 357.1,1033.3 357.9,1031.9C358.7,1030.5 358.8,1036.4 359.9,1030.9C361,1025.4 363.7,1005.9 364.9,995.9C366.1,985.9 367.1,971.1 367.9,965.9C368.7,960.7 369.1,962.9 369.9,962.4C370.7,961.9 371.8,962 372.9,962.4C374,962.8 375.5,964.4 376.9,964.9C378.3,965.4 380.2,968.7 381.9,965.5C383.6,962.3 386.2,951.3 387.9,944C389.6,936.7 391.4,925.7 392.9,918C394.4,910.3 396.5,900.8 397.9,894C399.3,887.2 401,877.1 401.9,874C402.8,870.9 403,875.5 403.9,873.9C404.8,872.3 406.8,864.7 407.9,863.9C409,863.1 410,866.7 410.9,868.9C411.8,871.1 413,877.1 413.9,877.9C414.8,878.7 415.7,875.6 416.9,873.9C418.1,872.2 420.2,872.1 421.9,866.9C423.6,861.7 426.2,845.9 427.9,839.9C429.6,833.9 431.1,830.7 432.9,827.9C434.7,825.1 438.2,823.3 439.9,821.9C441.6,820.5 442.7,819.1 443.9,818.9C445.1,818.7 446.7,820.6 447.9,820.9C449.1,821.2 450.7,820.3 451.9,820.9C453.1,821.5 454.6,823.4 455.8,824.9C457,826.4 458.1,829.5 459.8,830.9C461.5,832.3 465.1,832.7 466.8,833.9C468.5,835.1 469.1,840 470.8,838.9C472.5,837.8 475.2,830 477.8,826.9C480.4,823.8 485.3,821.2 487.8,818.9C490.3,816.6 492.4,812.7 493.8,811.9C495.2,811.1 495.7,813.6 496.8,813.5C497.9,813.4 499.6,810.2 500.8,811.5C502,812.8 503.3,818.8 504.8,821.9C506.3,825 509.1,831.9 510.8,831.9C512.5,831.9 514.3,824.6 515.8,821.9C517.3,819.2 519.4,815.4 520.8,814.5C522.2,813.6 523.1,814.1 524.8,815.9C526.5,817.7 530.3,824.5 531.8,825.9C533.3,827.3 533.7,825.1 534.8,824.9C535.9,824.7 537.7,825.1 538.8,824.9C539.9,824.7 540.3,825.7 541.8,823.5C543.3,821.3 547.7,812.8 548.8,810.9"/>
<path d="M142,898C142.8,899.5 145.8,906.2 147,908C148.2,909.8 148.9,908.8 150,910C151.1,911.2 152.6,914.5 154,916C155.4,917.5 157.8,917.2 159,920C160.2,922.8 160.6,929.4 162,934C163.4,938.6 166.3,945.1 168,950C169.7,954.9 171.6,961.1 173,965.9C174.4,970.7 175.6,977.7 177,980.9C178.4,984.1 180.5,987.4 182,986.9C183.5,986.4 185.6,981.4 187,977.9C188.4,974.4 189.9,968 191,964C192.1,960 192.9,954.7 194,952C195.1,949.3 196.9,947.4 198,946.4C199.1,945.4 199.9,947.5 201,945.6C202.1,943.7 203.5,938.2 205,934C206.5,929.8 209.5,921.1 211,918C212.5,914.9 214.1,914.2 215,913.6C215.9,913 216.1,914.7 217,914C217.9,913.3 219.9,910 221,909C222.1,908 222.8,910.2 224,907.6C225.2,905 227.7,895.9 229,892C230.3,888.1 231.3,883.8 232.4,882C233.5,880.2 235,880.1 236,880C237,879.9 238.1,881.1 239,881.6C239.9,882.1 241.1,883.3 242,883C242.9,882.7 243.7,880.1 244.9,879.6C246.1,879.1 248.2,878.7 249.9,880C251.6,881.3 254.4,884.5 255.9,888C257.4,891.5 258.7,898.4 259.9,903C261.1,907.6 262.7,913.4 263.9,918C265.1,922.6 266.5,932.4 267.9,933C269.3,933.6 271.7,924.5 272.9,922C274.1,919.5 275.1,917.9 275.9,917C276.7,916.1 277.3,917.5 277.9,916C278.5,914.5 279.3,907.9 279.9,907C280.5,906.1 281.4,908.5 281.9,910C282.4,911.5 282.3,915.8 282.9,917C283.5,918.2 285,916.9 285.9,918C286.8,919.1 288.1,922.3 288.9,924C289.7,925.7 290.3,925.9 290.9,929C291.5,932.1 292.3,938.6 292.9,944C293.5,949.4 293.8,953.6 294.9,964C296,974.4 298.5,998.4 299.9,1011.9C301.3,1025.4 302.5,1038.3 303.9,1051.9C305.3,1065.5 307.4,1086.8 308.7,1100C310,1113.2 311.2,1126.1 312.5,1137.7C313.8,1149.3 315.8,1163.9 317.2,1175.5C318.6,1187.1 320.6,1203 321.9,1213.2C323.2,1223.4 325,1235.5 325.7,1241.5C326.4,1247.5 325.6,1250.6 326.6,1251.9C327.6,1253.2 331,1249.7 332.3,1250C333.6,1250.3 334.2,1254.5 335.1,1253.8C336,1253.1 336.9,1248.1 337.9,1245.3C338.9,1242.5 340.5,1239.3 341.7,1235.8C342.9,1232.3 344.5,1227.2 345.5,1222.6C346.5,1218 347.4,1210.9 348.3,1205.7C349.2,1200.5 350.2,1193.3 351.1,1188.7C352,1184.1 353.1,1179.6 354,1175.5C354.9,1171.4 355.9,1166.7 356.8,1162.3C357.7,1157.9 358.7,1152.4 359.6,1147.2C360.5,1142 361.8,1134.1 362.5,1128.3C363.2,1122.5 363.9,1113.8 364.3,1109.4C364.7,1105 365.2,1103 365.3,1100C365.4,1097 364.7,1094.8 364.9,1089.9C365.1,1085 366.3,1073 366.9,1067.9C367.5,1062.8 368,1059.3 368.9,1056.9C369.8,1054.5 371.5,1053 372.9,1052.3C374.3,1051.6 376.8,1051.9 377.9,1052.3C379,1052.7 379.2,1053.5 379.9,1054.9C380.6,1056.3 381.6,1061.5 382.5,1061.5C383.4,1061.5 384.8,1058.8 385.9,1054.9C387,1051 388.7,1042.8 389.9,1035.9C391.1,1029 392.7,1018.2 393.9,1009.9C395.1,1001.6 396.7,989.3 397.9,981.9C399.1,974.5 400.8,966.1 401.9,962C403,957.9 404,955.9 404.9,955C405.8,954.1 406.4,953.2 407.9,956C409.4,958.8 413.2,971.4 414.9,972.9C416.6,974.4 417.5,971 418.9,965.9C420.3,960.8 422.4,947.4 423.9,940C425.4,932.6 427.4,922.9 428.9,918C430.4,913.1 432.4,910.5 433.9,908C435.4,905.5 437.4,902.8 438.9,902C440.4,901.2 442.4,903.2 443.9,903C445.4,902.8 447.7,901 448.9,901C450.1,901 450.2,900.4 451.9,903C453.6,905.6 458,915.4 459.8,918C461.6,920.6 462.2,918.2 463.8,920C465.4,921.8 468.2,930 470.4,930C472.6,930 475.7,921.8 477.8,920C479.9,918.2 481.8,918.5 483.8,918C485.8,917.5 489.3,918.4 490.8,917C492.3,915.6 492.7,910.1 493.8,909C494.9,907.9 496.7,909.5 497.8,910C498.9,910.5 499.6,909.5 500.8,912C502,914.5 504.4,921.6 505.8,926C507.2,930.4 508.4,938.2 509.8,940.4C511.2,942.6 513.4,941.1 514.8,940C516.2,938.9 517.4,935.8 518.8,933C520.2,930.2 522.7,923.7 523.8,922C524.9,920.3 525.1,920.9 525.8,922C526.5,923.1 527.4,927.9 528.2,929C529,930.1 529.5,930.2 530.8,929C532.1,927.8 535.1,922.8 536.8,921C538.5,919.2 540.1,919.8 541.8,917C543.5,914.2 546.9,905.2 547.8,903"/>
<path d="M142,1003.9C143.1,1005.3 146.8,1009.5 149,1012.9C151.2,1016.3 154.8,1023.4 156,1025.9C157.2,1028.4 156.5,1028.3 157,1028.9C157.5,1029.5 158.2,1027.8 159,1029.5C159.8,1031.2 161.1,1037.1 162,1039.9C162.9,1042.7 163.8,1044.2 165,1047.9C166.2,1051.6 168.6,1059 170,1063.9C171.4,1068.8 172.9,1076.4 174,1079.9C175.1,1083.4 175.9,1084.1 177,1086.9C178.1,1089.7 180,1095.7 181,1097.9C182,1100.1 182.8,1102.1 183.6,1100.9C184.4,1099.7 185.2,1092.5 186,1089.9C186.8,1087.3 187.9,1087.3 189,1083.9C190.1,1080.5 191.6,1072.4 193,1067.9C194.4,1063.4 196.6,1057.8 198,1054.9C199.4,1052 200.8,1051.8 202,1048.9C203.2,1046 204.8,1039.4 206,1035.9C207.2,1032.4 208.9,1028.1 210,1025.9C211.1,1023.7 212.1,1021.7 213,1021.5C213.9,1021.3 214.5,1024.5 215.6,1024.3C216.7,1024.1 218.7,1022 220,1019.9C221.3,1017.8 222.8,1015.2 224,1010.9C225.2,1006.6 226.6,997.9 228,991.9C229.4,985.9 231.6,976.2 233,971.9C234.4,967.6 235.9,965.5 237,964C238.1,962.5 239.1,961.9 240,962C240.9,962.1 242.2,965.2 243,964.9C243.8,964.6 244,960.9 244.9,960C245.8,959.1 248,958.2 248.9,959C249.8,959.8 250,962.6 250.9,964.9C251.8,967.2 253.5,970.1 254.9,973.9C256.3,977.7 258.5,985.3 259.9,989.9C261.3,994.5 262.7,999.6 263.9,1003.9C265.1,1008.2 266.8,1016.7 267.9,1017.9C269,1019.1 269.7,1015.3 270.9,1011.9C272.1,1008.5 274.5,999.6 275.9,995.9C277.3,992.2 278.7,989.2 279.9,987.9C281.1,986.6 283,987.9 283.9,987.3C284.8,986.7 285.3,983.3 285.9,983.9C286.5,984.5 287.1,989.1 287.9,990.9C288.7,992.7 290.1,993.9 290.9,995.9C291.7,997.9 292.1,998.4 292.9,1003.9C293.7,1009.4 294.8,1021.7 295.9,1031.9C297,1042.1 298.7,1059.4 299.9,1069.9C301.1,1080.4 302.9,1089.6 304,1100C305.1,1110.4 305.9,1126.1 306.8,1137.7C307.7,1149.3 308.7,1164.5 309.6,1175.5C310.5,1186.5 311.5,1200.7 312.5,1209.4C313.5,1218.1 315,1224.3 316.2,1232.1C317.4,1239.9 318.8,1251.7 320,1260.4C321.2,1269.1 322.8,1280.6 323.8,1288.7C324.8,1296.8 325.2,1309.6 326.6,1312.8C328,1316 331.8,1310.5 333.2,1309.4C334.6,1308.3 335.1,1308.9 336,1305.7C336.9,1302.5 338,1292.5 338.9,1288.7C339.8,1284.9 340.7,1285.5 341.7,1281.1C342.7,1276.7 344.5,1267.9 345.5,1260.4C346.5,1252.9 347.6,1239.9 348.3,1232.1C349,1224.3 349.5,1216.1 350.2,1209.4C350.9,1202.7 351.7,1195.7 353,1188.7C354.3,1181.7 357.4,1170.6 358.7,1164.2C360,1157.8 360.8,1154.2 361.5,1147.2C362.2,1140.2 363,1123.1 363.4,1118.9C363.8,1114.7 363.5,1122.8 363.9,1119.9C364.3,1117 365.3,1104.5 365.9,1099.9C366.5,1095.3 367.3,1091.2 367.9,1090.3C368.5,1089.4 368.8,1091.5 369.9,1093.9C371,1096.3 373.4,1102.2 374.9,1105.9C376.4,1109.6 378.5,1115 379.9,1117.9C381.3,1120.8 383.1,1125.5 384.3,1124.9C385.5,1124.3 386.9,1119.3 387.9,1113.9C388.9,1108.5 389.8,1096.7 390.9,1089.9C392,1083.1 393.7,1075.6 394.9,1069.9C396.1,1064.2 397.7,1056.3 398.9,1052.9C400.1,1049.5 401.7,1048.4 402.9,1047.9C404.1,1047.4 405.5,1047.4 406.9,1049.9C408.3,1052.4 410.5,1060.5 411.9,1063.9C413.3,1067.3 414.8,1071.7 415.9,1072.3C417,1072.9 418,1071 418.9,1067.9C419.8,1064.8 420.8,1057.7 421.9,1051.9C423,1046.1 424.7,1035.7 425.9,1029.9C427.1,1024.1 428.7,1017.7 429.9,1013.9C431.1,1010.1 432.7,1006.8 433.9,1004.9C435.1,1003 436.7,1001.8 437.9,1001.3C439.1,1000.8 440.2,1000.9 441.9,1001.9C443.6,1002.9 447.4,1007 448.9,1007.9C450.4,1008.8 450.2,1006.4 451.9,1007.9C453.6,1009.4 458,1015.4 459.8,1017.9C461.6,1020.4 462.2,1021.4 463.8,1023.9C465.4,1026.4 468.6,1034.1 470.4,1034.3C472.2,1034.5 474.4,1026.7 475.8,1024.9C477.2,1023.1 478.7,1023.1 479.8,1022.9C480.9,1022.7 482.1,1023.4 482.8,1023.9C483.5,1024.4 483.6,1026.1 484.2,1025.9C484.8,1025.7 485.9,1023.5 486.8,1022.9C487.7,1022.3 488.7,1022.7 489.8,1021.9C490.9,1021.1 492.7,1018.1 493.8,1017.5C494.9,1016.9 495.9,1017.2 496.8,1017.9C497.7,1018.6 498.4,1017.9 499.8,1021.9C501.2,1025.9 504,1037.4 505.8,1043.9C507.6,1050.4 509.7,1062.2 511.4,1063.9C513.1,1065.6 515.2,1058.9 516.8,1054.9C518.4,1050.9 520.6,1041.1 521.8,1037.9C523,1034.7 524,1034.7 524.8,1033.9C525.6,1033.1 526.2,1032.2 526.8,1032.9C527.4,1033.6 528.2,1037.7 528.8,1038.5C529.4,1039.3 529.9,1039.8 530.8,1037.9C531.7,1036 533.6,1028.8 534.8,1025.9C536,1023 537.7,1020.4 538.8,1018.9C539.9,1017.4 540.4,1019 541.8,1015.9C543.2,1012.8 546.9,1001.5 547.8,998.9"/>
<path d="M142,1119.9C142.6,1120.8 144.9,1124.8 146,1125.9C147.1,1127 148.1,1126.1 149,1126.9C149.9,1127.7 150.6,1129.7 152,1130.9C153.4,1132.1 156.5,1132.3 158,1134.9C159.5,1137.5 160.8,1144.1 162,1147.9C163.2,1151.7 164.8,1155.9 166,1159.9C167.2,1163.9 168.8,1169.5 170,1173.8C171.2,1178.1 172.9,1183.8 174,1187.8C175.1,1191.8 175.9,1197.1 177,1200C178.1,1202.9 179.8,1205.9 181,1206.4C182.2,1206.9 183.8,1205.5 185,1203C186.2,1200.5 187.9,1193.5 189,1190C190.1,1186.5 191.2,1183.1 192,1180C192.8,1176.9 193.1,1172.9 194,1170C194.9,1167.1 196.9,1163 198,1161C199.1,1159 199.9,1159.6 201,1157C202.1,1154.4 203.6,1147.8 205,1144C206.4,1140.2 208.5,1134.6 210,1132C211.5,1129.4 213.2,1129.8 215,1127C216.8,1124.2 220.5,1118.1 222,1113.9C223.5,1109.7 224.1,1104.2 225,1099.9C225.9,1095.6 227.1,1090.2 228,1085.9C228.9,1081.6 230.1,1076.1 231,1071.9C231.9,1067.7 233.1,1061.8 234,1058.9C234.9,1056 236.1,1054.6 237,1052.9C237.9,1051.2 239.2,1049.3 240,1047.9C240.8,1046.5 241.6,1044.4 242.4,1043.5C243.2,1042.6 243.9,1042.8 244.9,1041.9C245.9,1041 247.8,1037.1 248.9,1037.9C250,1038.7 251,1045.1 251.9,1046.9C252.8,1048.7 253.7,1046.7 254.9,1049.9C256.1,1053.1 258.5,1063.4 259.9,1067.9C261.3,1072.4 262.7,1075.7 263.9,1078.9C265.1,1082.1 266.5,1088.7 267.9,1088.9C269.3,1089.1 271.4,1083.1 272.9,1079.9C274.4,1076.7 276.7,1070.3 277.9,1067.9C279.1,1065.5 280,1065 280.9,1064.3C281.8,1063.6 282.8,1063.5 283.9,1063.5C285,1063.5 286.8,1063 287.9,1064.3C289,1065.6 290.1,1069.5 290.9,1071.9C291.7,1074.3 292.4,1075.6 292.9,1079.9C293.4,1084.2 293.5,1092.6 294.2,1100C294.9,1107.4 296.5,1119.6 297.4,1128.3C298.3,1137 299.3,1147.9 300.2,1156.6C301.1,1165.3 302.1,1174.7 303,1184.9C303.9,1195.1 304.9,1211 305.8,1222.6C306.7,1234.2 307.7,1250.2 308.7,1260.4C309.7,1270.6 311.2,1280 312.5,1288.7C313.8,1297.4 315.8,1308.3 317.2,1317C318.6,1325.7 320.5,1337.2 321.9,1345.3C323.3,1353.4 325.4,1366.2 326.6,1369.4C327.8,1372.6 328.5,1367.7 329.4,1366C330.3,1364.3 331.3,1360.5 332.3,1358.5C333.3,1356.5 335,1355.4 336,1352.8C337,1350.2 337.9,1344.4 338.9,1341.5C339.9,1338.6 341.6,1337.2 342.6,1334C343.6,1330.8 344.6,1326.3 345.5,1320.8C346.4,1315.3 347.4,1305.9 348.3,1298.1C349.2,1290.3 350.4,1277.9 351.1,1269.8C351.8,1261.7 352.3,1250.5 353,1245.3C353.7,1240.1 354.9,1239.3 355.8,1235.8C356.7,1232.3 357.8,1229 358.7,1222.6C359.6,1216.2 360.6,1203 361.5,1194.3C362.4,1185.6 363.6,1171.8 364.3,1166C365,1160.2 365.6,1158.5 366.2,1156.6C366.8,1154.7 367.5,1153.5 368.1,1153.8C368.7,1154.1 369.3,1157.2 370,1158.5C370.7,1159.8 371.5,1158.2 372.8,1162.3C374.1,1166.4 376.7,1178.4 378.5,1184.9C380.3,1191.4 382.6,1202.4 384.2,1204.7C385.8,1207 387.7,1202.5 388.9,1200C390.1,1197.5 390.8,1193.9 391.7,1188.7C392.6,1183.5 393.2,1172.1 394.5,1166C395.8,1159.9 398.7,1151.9 400,1149.1C401.3,1146.3 402,1147.6 402.9,1147.9C403.8,1148.2 404.8,1147.8 405.9,1150.9C407,1154 408.5,1163.1 409.9,1167.9C411.3,1172.7 413.7,1180 414.9,1181.8C416.1,1183.6 416.8,1181.3 417.9,1179.8C419,1178.3 420.7,1176.5 421.9,1171.9C423.1,1167.3 424.7,1155.7 425.9,1149.9C427.1,1144.1 428.7,1138.2 429.9,1133.9C431.1,1129.6 432.5,1124.6 433.9,1121.9C435.3,1119.2 437.7,1116.8 438.9,1116.5C440.1,1116.2 441,1119.5 441.9,1119.9C442.8,1120.3 444,1118.6 444.9,1118.9C445.8,1119.2 447,1121.7 447.9,1121.9C448.8,1122.1 449.8,1120.1 450.9,1119.9C452,1119.7 453.4,1120 454.8,1120.9C456.2,1121.8 458.4,1124.7 459.8,1125.9C461.2,1127.1 462.2,1125.9 463.8,1128.9C465.4,1131.9 468.6,1144 470.4,1145.5C472.2,1147 474.7,1140.2 475.8,1138.9C476.9,1137.6 477.2,1137.1 477.8,1136.9C478.4,1136.7 479,1137.9 479.8,1137.9C480.6,1137.9 481.6,1136.7 482.8,1136.9C484,1137.1 486.4,1138.6 487.8,1138.9C489.2,1139.2 490.9,1139.4 491.8,1138.9C492.7,1138.4 492.9,1136.4 493.8,1135.9C494.7,1135.4 496.7,1135.3 497.8,1135.9C498.9,1136.5 499.6,1135.9 500.8,1139.9C502,1143.9 504.2,1155.5 505.8,1161.9C507.4,1168.3 509.7,1180 511.4,1181.8C513.1,1183.6 515,1178.4 516.8,1173.8C518.6,1169.2 521.4,1156.2 522.8,1151.9C524.2,1147.6 524.9,1147 525.8,1145.9C526.7,1144.8 527.7,1146.7 528.8,1144.9C529.9,1143.1 531.1,1138.1 532.8,1133.9C534.5,1129.7 537.5,1123.6 539.8,1117.9C542.1,1112.2 546.6,1100.1 547.8,1096.9"/>
<path d="M142,1212C142.6,1213.5 144.8,1220.2 146,1222C147.2,1223.8 148.8,1223.8 150,1224C151.2,1224.2 152.8,1223.3 154,1223.6C155.2,1223.9 156.8,1223.7 158,1225.9C159.2,1228.1 160.6,1233.3 162,1237.9C163.4,1242.5 165.5,1251.3 167,1255.9C168.5,1260.5 170.5,1263.6 172,1267.9C173.5,1272.2 175.5,1280.2 177,1283.9C178.5,1287.6 180.5,1291.6 182,1291.9C183.5,1292.2 185.5,1288.7 187,1285.9C188.5,1283.1 190.6,1277.9 192,1273.9C193.4,1269.9 194.8,1263.9 196,1259.9C197.2,1255.9 198.6,1251.9 200,1247.9C201.4,1243.9 203.6,1237.3 205,1233.9C206.4,1230.5 207.9,1228.1 209,1225.9C210.1,1223.7 210.9,1220.7 212,1219.6C213.1,1218.5 214.8,1221.1 216,1219C217.2,1216.9 218.8,1210.5 220,1206C221.2,1201.5 222.8,1195.2 224,1190C225.2,1184.8 226.8,1176.9 228,1172C229.2,1167.1 230.8,1162 232,1158C233.2,1154 234.8,1149.1 236,1146C237.2,1142.9 238.8,1140.5 240,1138C241.2,1135.5 242.9,1132 244,1130C245.1,1128 246.1,1125.9 246.9,1125C247.7,1124.1 248.7,1123.2 249.5,1124C250.3,1124.8 251.1,1127.5 251.9,1130C252.7,1132.5 253.7,1136.3 254.9,1140C256.1,1143.7 257.9,1148.8 259.9,1154C261.9,1159.2 265.9,1171.5 267.9,1174C269.9,1176.5 271.4,1171.5 272.9,1170C274.4,1168.5 276.7,1165.8 277.9,1164C279.1,1162.2 280.1,1159.1 280.9,1158C281.7,1156.9 282.1,1157.3 282.9,1157C283.7,1156.7 285,1155.5 285.9,1156C286.8,1156.5 288,1157.8 288.9,1160C289.8,1162.2 291,1165.4 291.9,1170C292.8,1174.6 294,1182.9 294.9,1190C295.8,1197.1 296.8,1207.1 297.9,1216C299,1224.9 300.5,1238.1 301.9,1247.9C303.3,1257.7 305.5,1268.8 306.7,1279.9C307.9,1291 309,1306.7 309.9,1319.9C310.8,1333.1 311.5,1353.8 312.7,1365.7C313.9,1377.6 316.2,1388.9 317.7,1397.5C319.2,1406.1 321.1,1415.5 322.5,1421.9C323.9,1428.3 325.9,1436.4 326.9,1439.2C327.9,1442 328,1440.8 328.9,1439.8C329.8,1438.8 331.8,1434.9 332.9,1432.8C334,1430.7 334.8,1428.8 335.9,1425.9C337,1423 338.7,1417.9 339.9,1413.9C341.1,1409.9 342.8,1405.1 343.9,1399.9C345,1394.7 346.1,1386.7 346.9,1379.9C347.7,1373.1 348.3,1363.3 348.9,1355.9C349.5,1348.5 350.3,1337.7 350.9,1331.9C351.5,1326.1 352.1,1320.8 352.9,1317.9C353.7,1315 354.8,1315.4 355.9,1312.9C357,1310.4 359,1307 359.9,1301.9C360.8,1296.8 361.3,1286.4 361.9,1279.9C362.5,1273.4 363.3,1264.5 363.9,1259.9C364.5,1255.3 365.3,1251.6 365.9,1249.9C366.5,1248.2 367.3,1248.4 367.9,1248.9C368.5,1249.4 369.1,1252.1 369.9,1252.9C370.7,1253.7 371.7,1251.6 372.9,1253.9C374.1,1256.2 376.5,1263.6 377.9,1267.9C379.3,1272.2 380.7,1277.9 381.9,1281.9C383.1,1285.9 384.8,1292.2 385.9,1293.9C387,1295.6 388,1295.4 388.9,1292.9C389.8,1290.4 391,1283 391.9,1277.9C392.8,1272.8 393.8,1264.5 394.9,1259.9C396,1255.3 397.7,1250.4 398.9,1247.9C400.1,1245.4 401.8,1243.9 402.9,1243.9C404,1243.9 404.8,1244.8 405.9,1247.9C407,1251 408.4,1258.5 409.9,1263.9C411.4,1269.3 414.7,1280.4 415.9,1282.9C417.1,1285.4 417.3,1280.4 417.9,1279.9C418.5,1279.4 419.1,1281.6 419.9,1279.9C420.7,1278.2 421.8,1273.5 422.9,1268.9C424,1264.3 425.8,1255.3 426.9,1249.9C428,1244.5 428.8,1237.6 429.9,1233.9C431,1230.2 432.7,1227.7 433.9,1225.9C435.1,1224.1 436.7,1222.7 437.9,1222.4C439.1,1222.1 440.7,1223.2 441.9,1224C443.1,1224.8 444.7,1227.5 445.9,1227.5C447.1,1227.5 448.7,1225.2 449.9,1224C451.1,1222.8 452.7,1219.6 453.8,1219.6C454.9,1219.6 455.7,1223.6 456.8,1224C457.9,1224.4 459.4,1221.4 460.8,1222C462.2,1222.6 464.3,1225.3 465.8,1227.9C467.3,1230.5 469,1238.3 470.4,1238.9C471.8,1239.5 473.7,1233.4 474.8,1231.9C475.9,1230.4 476.6,1229.5 477.8,1228.9C479,1228.3 481.6,1227.8 482.8,1227.9C484,1228 484.9,1229.5 485.8,1229.5C486.7,1229.5 487.9,1227.8 488.8,1227.9C489.7,1228 491,1230.4 491.8,1229.9C492.6,1229.4 492.7,1224.6 493.8,1224.9C494.9,1225.2 497.4,1229 498.8,1231.9C500.2,1234.8 501.4,1239.3 502.8,1243.9C504.2,1248.5 506.4,1257.5 507.8,1261.9C509.2,1266.3 510.4,1271.7 511.8,1272.3C513.2,1272.9 515.4,1268.4 516.8,1265.9C518.2,1263.4 519.7,1259 520.8,1255.9C521.9,1252.8 522.9,1248.4 523.8,1245.9C524.7,1243.4 525.9,1241.1 526.8,1239.9C527.7,1238.7 529,1239.3 529.8,1237.9C530.6,1236.5 530.9,1234.6 531.8,1230.9C532.7,1227.2 534.6,1217.8 535.8,1214C537,1210.2 538.6,1209.1 539.8,1206C541,1202.9 542.6,1197.2 543.8,1194C545,1190.8 547.2,1186.4 547.8,1185"/>
<path d="M142,1318.5C142.3,1319.6 143.4,1324.3 144,1325.9C144.6,1327.5 145.1,1328.9 146,1328.9C146.9,1328.9 148.8,1326.2 150,1325.9C151.2,1325.6 152.8,1327.3 154,1326.9C155.2,1326.5 157.1,1323.2 158,1323.5C158.9,1323.8 159.2,1326.4 160,1328.9C160.8,1331.4 161.9,1335.7 163,1339.9C164.1,1344.1 165.9,1354.1 167,1355.9C168.1,1357.7 169.1,1352.6 170,1351.9C170.9,1351.2 172.2,1352 173,1351.5C173.8,1351 174.1,1347.9 175,1348.9C175.9,1349.9 177.6,1354.4 179,1357.9C180.4,1361.4 182.5,1369 184,1371.9C185.5,1374.8 187.6,1377.5 189,1376.9C190.4,1376.3 191.8,1371.7 193,1367.9C194.2,1364.1 195.9,1355.9 197,1351.9C198.1,1347.9 198.9,1345 200,1341.9C201.1,1338.8 202.6,1334.8 204,1331.9C205.4,1329 207.3,1326.3 209,1322.9C210.7,1319.5 213.5,1313.4 215,1309.9C216.5,1306.4 217.9,1303.9 219,1299.9C220.1,1295.9 221.1,1288.2 222,1283.9C222.9,1279.6 224.1,1274.8 225,1271.9C225.9,1269 226.9,1266 228,1264.9C229.1,1263.8 230.9,1266 232,1264.9C233.1,1263.8 234.1,1259.6 235,1257.9C235.9,1256.2 236.9,1255.4 238,1253.9C239.1,1252.4 240.9,1249.5 242,1247.9C243.1,1246.3 243.8,1243.9 244.9,1243.5C246,1243.1 247.8,1244.1 248.9,1245.5C250,1246.9 250.8,1250.1 251.9,1252.9C253,1255.7 254.7,1260.8 255.9,1263.9C257.1,1267 259,1271.2 259.9,1272.9C260.8,1274.6 261.3,1275.2 261.9,1274.9C262.5,1274.6 263,1271.1 263.9,1270.9C264.8,1270.7 266.5,1272.3 267.9,1273.9C269.3,1275.5 271.4,1279.4 272.9,1281.5C274.4,1283.6 276.5,1287.3 277.9,1287.5C279.3,1287.7 280.7,1284.6 281.9,1282.9C283.1,1281.2 284.8,1276.5 285.9,1276.3C287,1276.1 288,1279.8 288.9,1281.9C289.8,1284 291,1286.5 291.9,1289.9C292.8,1293.3 294,1299.3 294.9,1303.9C295.8,1308.5 297.1,1314.4 297.9,1319.9C298.7,1325.4 298.9,1333.6 299.9,1339.9C300.9,1346.2 303.2,1351.3 304.3,1360.9C305.4,1370.5 305.8,1390.5 306.8,1402.6C307.8,1414.7 309.2,1428.8 310.5,1439.4C311.8,1450 313.9,1461.9 315.4,1471.3C316.9,1480.7 318.8,1492.9 320.3,1500.8C321.8,1508.7 324.2,1518.1 325.2,1522.8C326.2,1527.5 326.1,1529.4 326.9,1531.4C327.7,1533.4 329.2,1535.8 330.1,1535.6C331,1535.4 331.6,1531.8 332.5,1530.2C333.4,1528.6 335.1,1527.6 336.2,1525.3C337.3,1523 338.8,1518.5 339.9,1515.5C341,1512.5 342.5,1509.9 343.6,1505.7C344.7,1501.5 346.4,1493.8 347.3,1488.5C348.2,1483.2 348.9,1476.4 349.7,1471.3C350.5,1466.2 351.3,1456.9 352.2,1455.4C353.1,1453.9 354.9,1461.3 355.8,1461.5C356.7,1461.7 357.3,1461.9 358.3,1456.6C359.3,1451.3 361.1,1436.3 362,1427.2C362.9,1418.1 363.3,1402.6 364.4,1397.7C365.5,1392.8 368,1396.8 369.3,1395.3C370.6,1393.8 371.7,1388.7 373,1387.9C374.3,1387.1 376.2,1388.7 377.9,1390.4C379.6,1392.1 382.4,1398.1 384.1,1399C385.8,1399.9 387.7,1399.7 389,1396.5C390.3,1393.3 390.9,1382.4 392.6,1378.1C394.3,1373.8 398.1,1369.1 400,1368.3C401.9,1367.5 403.5,1370.1 404.9,1373C406.3,1375.9 407.4,1382.4 408.9,1387C410.4,1391.6 413.4,1399.5 414.9,1403C416.4,1406.5 417.8,1409.7 418.9,1410C420,1410.3 420.8,1409.2 421.9,1405C423,1400.8 424.7,1389.5 425.9,1383C427.1,1376.5 428.5,1367.5 429.9,1363C431.3,1358.5 433.5,1355.9 434.9,1353.9C436.3,1351.9 437.8,1350.1 438.9,1350.3C440,1350.5 440.8,1354 441.9,1354.9C443,1355.8 444.4,1357.4 445.9,1356.3C447.4,1355.2 450.4,1350.4 451.9,1347.9C453.4,1345.4 454.4,1343.3 455.8,1339.9C457.2,1336.5 459.4,1329.2 460.8,1325.9C462.2,1322.6 463.7,1319.2 464.8,1318.3C465.9,1317.4 466.9,1319 467.8,1319.9C468.7,1320.8 469.6,1324.1 470.4,1323.9C471.2,1323.7 471.4,1319.8 472.8,1318.9C474.2,1318 478.1,1319.3 479.8,1317.9C481.5,1316.5 482.6,1312.1 483.8,1309.9C485,1307.7 486.7,1304.1 487.8,1303.5C488.9,1302.9 489.6,1304.3 490.8,1305.9C492,1307.5 494.7,1311.9 495.8,1313.9C496.9,1315.9 497,1318 497.8,1318.9C498.6,1319.8 499.6,1318.5 500.8,1319.9C502,1321.3 504.3,1325.3 505.8,1327.9C507.3,1330.5 509.3,1334.1 510.8,1336.9C512.3,1339.7 514.3,1344.7 515.8,1345.9C517.3,1347.1 519.3,1347.1 520.8,1344.9C522.3,1342.7 524.3,1335.7 525.8,1331.9C527.3,1328.1 529.4,1324.2 530.8,1319.9C532.2,1315.6 533.9,1307 534.8,1303.9C535.7,1300.8 536.2,1300.1 536.8,1299.9C537.4,1299.7 538,1302.9 538.8,1302.3C539.6,1301.7 540.4,1299.5 541.8,1295.9C543.2,1292.3 546.9,1281.5 547.8,1278.9"/>
<path d="M142,1424C142.5,1423.7 143.9,1423.1 145,1422C146.1,1420.9 147.9,1417.8 149,1417C150.1,1416.2 150.9,1417.7 152,1416.6C153.1,1415.5 154.8,1411.3 156,1410C157.2,1408.7 158.9,1407.4 160,1408C161.1,1408.6 161.9,1411.7 163,1414C164.1,1416.3 165.9,1422.8 167,1423C168.1,1423.2 169.1,1418.2 170,1415C170.9,1411.8 172.1,1404.4 173,1402C173.9,1399.6 174.8,1399.1 175.6,1399.4C176.4,1399.7 177.2,1401.3 178,1404C178.8,1406.7 179.9,1411.6 181,1417C182.1,1422.4 183.8,1432.9 185,1439C186.2,1445.1 187.8,1454.9 189,1456.6C190.2,1458.3 191.8,1453 193,1450C194.2,1447 195.8,1441.5 197,1437C198.2,1432.5 199.8,1425 201,1421C202.2,1417 203.8,1414.1 205,1411C206.2,1407.9 207.8,1403.8 209,1401C210.2,1398.2 211.8,1396.7 213,1393C214.2,1389.3 215.8,1381.9 217,1377C218.2,1372.1 220.1,1364.7 221,1361C221.9,1357.3 222.2,1354.9 223,1352.9C223.8,1350.9 225.1,1348.8 226,1347.9C226.9,1347 228,1346.1 229,1346.9C230,1347.7 231.5,1353.1 232.4,1352.9C233.3,1352.7 234.3,1347.9 235,1345.9C235.7,1343.9 236.2,1340.8 237,1339.9C237.8,1339 238.8,1340.7 240,1339.9C241.2,1339.1 243.5,1334.3 244.9,1334.9C246.3,1335.5 247.7,1340.7 248.9,1343.9C250.1,1347.1 251.8,1351.7 252.9,1355.9C254,1360.1 255.3,1368.3 255.9,1370.9C256.5,1373.5 256.3,1372.7 256.9,1373C257.5,1373.3 258.8,1372.9 259.9,1372.6C261,1372.3 262.8,1371.5 263.9,1371C265,1370.5 266,1368.2 266.9,1369.4C267.8,1370.6 268.8,1376 269.9,1379C271,1382 272.7,1385.2 273.9,1389C275.1,1392.8 276.7,1402.6 277.9,1404C279.1,1405.4 280.7,1399.8 281.9,1398C283.1,1396.2 284.8,1392.6 285.9,1392C287,1391.4 287.8,1392.8 288.9,1394C290,1395.2 292,1398 292.9,1400C293.8,1402 294.1,1403.5 294.9,1407C295.7,1410.5 297,1418.7 297.9,1423C298.8,1427.3 300.1,1430.7 300.9,1435C301.7,1439.3 302.3,1445.2 302.9,1451C303.5,1456.8 304.3,1465.2 304.9,1472.9C305.5,1480.6 306.3,1492.6 306.9,1500.9C307.5,1509.2 308.3,1520.4 308.9,1526.9C309.5,1533.4 310.1,1538.3 310.9,1542.9C311.7,1547.5 313,1552.3 313.9,1556.9C314.8,1561.5 315.8,1568 316.9,1572.9C318,1577.8 319.5,1584.3 320.9,1588.9C322.3,1593.5 324.7,1600.1 325.9,1602.9C327.1,1605.7 328.1,1605.5 328.9,1606.9C329.7,1608.3 330.3,1612.1 330.9,1611.9C331.5,1611.7 332,1607.2 332.9,1605.9C333.8,1604.6 335.8,1605.1 336.9,1603.3C338,1601.5 339,1596 339.9,1593.9C340.8,1591.8 342,1590.8 342.9,1589.9C343.8,1589 345,1590.4 345.9,1587.9C346.8,1585.4 348.1,1577.4 348.9,1573.9C349.7,1570.4 350.4,1565.7 351.3,1564.9C352.2,1564.1 353.9,1567.7 354.9,1568.9C355.9,1570.1 357.1,1574.7 357.9,1572.9C358.7,1571.1 359.3,1562.4 359.9,1556.9C360.5,1551.4 361.1,1543.1 361.9,1536.9C362.7,1530.7 363.8,1519.4 364.9,1516.9C366,1514.4 367.7,1521.2 368.9,1520.5C370.1,1519.8 371.7,1514.5 372.9,1512.5C374.1,1510.5 376,1507.7 376.9,1507.3C377.8,1506.9 378.1,1510.2 378.9,1509.9C379.7,1509.6 381,1505.4 381.9,1505.3C382.8,1505.2 384,1510.6 384.9,1509.3C385.8,1508 387,1500.7 387.9,1496.9C388.8,1493.1 390,1488.4 390.9,1484.9C391.8,1481.4 393,1475.7 393.9,1473.9C394.8,1472.1 396,1474.3 396.9,1472.9C397.8,1471.5 399,1466.6 399.9,1464.9C400.8,1463.2 401.8,1460.5 402.9,1461.9C404,1463.3 405.5,1468.8 406.9,1473.9C408.3,1479 410.4,1490.1 411.9,1494.9C413.4,1499.7 415.4,1503.3 416.9,1504.9C418.4,1506.5 420.7,1507.8 421.9,1505.3C423.1,1502.8 424,1494.8 424.9,1488.9C425.8,1483 427,1472.7 427.9,1466.9C428.8,1461.1 429.7,1455.6 430.9,1451C432.1,1446.4 434.7,1440.2 435.9,1437C437.1,1433.8 438.1,1429.8 438.9,1430C439.7,1430.2 440,1437.4 440.9,1438.6C441.8,1439.8 443.8,1438.5 444.9,1437.6C446,1436.7 447,1434.2 447.9,1433C448.8,1431.8 449.8,1431.5 450.9,1430C452,1428.5 453.9,1425.3 454.8,1423C455.7,1420.7 455.9,1418.4 456.8,1415C457.7,1411.6 459.6,1404.7 460.8,1401C462,1397.3 463.7,1392.8 464.8,1391C465.9,1389.2 466.7,1389.3 467.8,1389C468.9,1388.7 470.6,1387.8 471.8,1389C473,1390.2 474.7,1395.6 475.8,1397C476.9,1398.4 477.7,1399.1 478.8,1398C479.9,1396.9 481.4,1392.6 482.8,1390C484.2,1387.4 486.6,1381.5 487.8,1381C489,1380.5 489.6,1385 490.8,1387C492,1389 494.4,1391.8 495.8,1394C497.2,1396.2 498.3,1399.7 499.8,1401C501.3,1402.3 504.1,1401.5 505.8,1402.6C507.5,1403.7 509.6,1405.2 510.8,1408C512,1410.8 512.7,1416.5 513.8,1421C514.9,1425.5 516.7,1433.3 517.8,1437C518.9,1440.7 519.9,1444.4 520.8,1445C521.7,1445.6 522.4,1444.4 523.8,1441C525.2,1437.6 528.1,1428.2 529.8,1423C531.5,1417.8 533.4,1409.5 534.8,1407C536.2,1404.5 537.6,1408.8 538.8,1407C540,1405.2 541.4,1398.5 542.8,1395C544.2,1391.5 547,1385.7 547.8,1384"/>
<path d="M142,1530.9C142.3,1531.4 143.2,1534.4 144,1533.9C144.8,1533.4 145.9,1529.4 147,1527.9C148.1,1526.4 149.9,1525.1 151,1523.9C152.1,1522.7 153.1,1521.6 154,1519.9C154.9,1518.2 156.1,1514.6 157,1512.9C157.9,1511.2 159.2,1509.7 160,1508.9C160.8,1508.1 161.4,1507.6 162,1507.9C162.6,1508.2 163.2,1509.6 164,1510.9C164.8,1512.2 166.1,1517.8 167,1516.3C167.9,1514.8 169.2,1505.7 170,1500.9C170.8,1496.1 171.4,1488.3 172,1484.9C172.6,1481.5 173.4,1479.7 174,1478.5C174.6,1477.3 175.3,1476.4 176,1476.9C176.7,1477.4 177.6,1478.8 178.4,1481.9C179.2,1485 180.1,1490.9 181,1496.9C181.9,1502.9 183.1,1514.1 184,1520.9C184.9,1527.7 186.1,1536 187,1540.9C187.9,1545.8 189.2,1550.6 190,1552.9C190.8,1555.2 191.6,1556.2 192.4,1555.9C193.2,1555.6 194.1,1553.8 195,1550.9C195.9,1548 197.1,1541.5 198,1536.9C198.9,1532.3 200.1,1524.9 201,1520.9C201.9,1516.9 202.9,1514.1 204,1510.9C205.1,1507.7 206.9,1502.2 208,1499.9C209.1,1497.6 210.1,1497.9 211,1495.9C211.9,1493.9 213.1,1490.4 214,1486.9C214.9,1483.4 216.1,1477.8 217,1472.9C217.9,1468 219.1,1459.3 220,1455C220.9,1450.7 222.1,1447.3 223,1445C223.9,1442.7 225.1,1440 226,1440C226.9,1440 228.2,1443.9 229,1445C229.8,1446.1 230.4,1445.3 231,1447C231.6,1448.7 232.4,1454.8 233,1456C233.6,1457.2 234.4,1455.9 235,1455C235.6,1454.1 236.2,1450.6 237,1450C237.8,1449.4 239.1,1450.7 240,1451C240.9,1451.3 242.2,1452.1 243,1452C243.8,1451.9 244.1,1450.4 244.9,1450.6C245.7,1450.8 247,1450.8 247.9,1453C248.8,1455.2 250,1460.9 250.9,1464.9C251.8,1468.9 253,1475.5 253.9,1478.9C254.8,1482.3 256,1485.9 256.9,1487.3C257.8,1488.7 259,1488.3 259.9,1487.9C260.8,1487.5 262,1486.4 262.9,1484.9C263.8,1483.4 264.7,1478.8 265.5,1478.3C266.3,1477.8 267.1,1479 267.9,1481.9C268.7,1484.8 270,1492.1 270.9,1496.9C271.8,1501.7 272.9,1508.6 273.9,1512.9C274.9,1517.2 276.4,1523.5 277.5,1524.9C278.6,1526.3 279.9,1523.1 280.9,1521.9C281.9,1520.7 283.1,1517.8 283.9,1516.9C284.7,1516 285.4,1515.6 286.3,1515.9C287.2,1516.2 288.7,1517.7 289.9,1518.9C291.1,1520.1 292.8,1521.1 293.9,1523.9C295,1526.7 296.1,1533.5 296.9,1536.9C297.7,1540.3 298.3,1543.9 298.9,1545.9C299.5,1547.9 300.3,1547.6 300.9,1549.9C301.5,1552.2 302.3,1556.7 302.9,1560.9C303.5,1565.1 304.3,1571.4 304.9,1576.9C305.5,1582.4 306.1,1589.8 306.9,1596.9C307.7,1604 308.8,1616.7 309.9,1622.9C311,1629.1 312.7,1632.3 313.9,1636.9C315.1,1641.5 316.8,1648.4 317.9,1652.9C319,1657.4 320,1662.7 320.9,1665.9C321.8,1669.1 322.7,1671.8 323.9,1673.8C325.1,1675.8 327.8,1678.9 328.9,1679.2C330,1679.5 330.2,1676.5 330.9,1675.8C331.6,1675.1 332.9,1674.8 333.5,1674.8C334.1,1674.8 334.2,1676.7 334.9,1675.8C335.6,1674.9 337,1671.2 337.9,1668.9C338.8,1666.6 340,1662.7 340.9,1660.9C341.8,1659.1 342.7,1657.4 343.5,1656.9C344.3,1656.4 345,1658.7 345.9,1657.9C346.8,1657.1 348.2,1651.7 349.3,1651.9C350.4,1652.1 351.7,1656.7 352.9,1658.9C354.1,1661.1 356.2,1666.8 357.3,1665.9C358.4,1665 359.2,1658 359.9,1652.9C360.6,1647.8 361.3,1638.7 361.9,1632.9C362.5,1627.1 363.3,1618.7 363.9,1614.9C364.5,1611.1 365,1608.4 365.9,1607.9C366.8,1607.4 368.7,1612.8 369.9,1611.9C371.1,1611 372.7,1602.3 373.9,1601.9C375.1,1601.5 376.8,1609.5 377.9,1609.3C379,1609.1 379.8,1602.5 380.9,1600.9C382,1599.3 384,1601.1 384.9,1598.9C385.8,1596.7 386.1,1591.5 386.9,1586.9C387.7,1582.3 389,1572.7 389.9,1568.9C390.8,1565.1 391.9,1562.4 392.9,1561.9C393.9,1561.4 395.4,1567.1 396.5,1565.9C397.6,1564.7 398.9,1556.8 399.9,1553.9C400.9,1551 401.8,1546.1 402.9,1546.9C404,1547.7 405.5,1553.1 406.9,1558.9C408.3,1564.7 410.4,1580.3 411.9,1584.9C413.4,1589.5 415.4,1587.7 416.9,1588.9C418.4,1590.1 420.4,1592.8 421.5,1592.5C422.6,1592.2 423.1,1590.5 423.9,1586.9C424.7,1583.3 426,1574.4 426.9,1568.9C427.8,1563.4 428.8,1555.5 429.9,1550.9C431,1546.3 432.5,1542.6 433.9,1538.9C435.3,1535.2 437.7,1527.7 438.9,1526.9C440.1,1526.1 440.8,1533 441.9,1533.9C443,1534.8 444.7,1533.5 445.9,1532.9C447.1,1532.3 448.7,1531.4 449.9,1529.9C451.1,1528.4 452.6,1525.8 453.8,1522.9C455,1520 456.6,1514.7 457.8,1510.9C459,1507.1 460.6,1501.9 461.8,1497.9C463,1493.9 464.7,1487.5 465.8,1484.9C466.9,1482.3 467.9,1481.7 468.8,1481.3C469.7,1480.9 471.1,1482.4 471.8,1482.5C472.5,1482.6 472.8,1481.1 473.4,1481.9C474,1482.7 475,1485.9 475.8,1487.9C476.6,1489.9 477.7,1495.4 478.8,1494.9C479.9,1494.4 481.7,1488.1 482.8,1484.9C483.9,1481.7 484.9,1475.9 485.8,1473.9C486.7,1471.9 487.7,1469 488.8,1471.9C489.9,1474.8 491.7,1488.9 492.8,1492.9C493.9,1496.9 494.7,1496.7 495.8,1497.9C496.9,1499.1 498.7,1501.5 499.8,1500.9C500.9,1500.3 501.7,1496.1 502.8,1493.9C503.9,1491.7 505.7,1488.7 506.8,1486.9C507.9,1485.1 509,1482.5 509.8,1482.5C510.6,1482.5 511,1482.8 511.8,1486.9C512.6,1491 513.7,1502.4 514.8,1508.9C515.9,1515.4 517.7,1524.8 518.8,1528.9C519.9,1533 520.7,1535 521.8,1535.5C522.9,1536 524.6,1533.2 525.8,1531.9C527,1530.6 528.7,1529.5 529.8,1526.9C530.9,1524.3 532,1517.5 532.8,1514.9C533.6,1512.3 533.9,1510.5 534.8,1509.9C535.7,1509.3 537.6,1512 538.8,1510.9C540,1509.8 541.4,1505.4 542.8,1502.9C544.2,1500.4 547,1496.1 547.8,1494.9"/>
</g>
<g stroke="#231f20" stroke-width="1.9" fill="none">
<line x1="573" y1="210.9" x2="659" y2="257.7"/>
<line x1="569.5" y1="547.7" x2="663.7" y2="564.6"/>
<line x1="548.5" y1="678.3" x2="658.5" y2="866.7"/>
<line x1="564.5" y1="952" x2="659.2" y2="1175.6"/>
<line x1="558.7" y1="1145.2" x2="670.1" y2="1516"/>
</g>
<circle cx="586.2" cy="646.6" r="16.7" fill="#3c54a5"/>
<circle cx="575.4" cy="915.8" r="16.7" fill="#6cbf4b"/>
<circle cx="586.4" cy="1123.8" r="16.7" fill="#fdb517"/>
<circle cx="1889.3" cy="199.3" r="16.7" fill="#3c54a5"/>
<circle cx="1889.3" cy="746.7" r="16.7" fill="#6cbf4b"/>
<circle cx="1889.6" cy="1293.4" r="16.7" fill="#fdb517"/>
<text x="124" y="132.2" font-family='"Liberation Sans", Arial, Helvetica, sans-serif' font-style="italic" font-size="37.8" fill="#231f20" text-anchor="end">par. cx.</text>
<text x="110.7" y="579.2" font-family='"Liberation Sans", Arial, Helvetica, sans-serif' font-style="italic" font-size="37.8" fill="#231f20" text-anchor="end">s. or.</text>
<text x="116.7" y="675.3" font-family='"Liberation Sans", Arial, Helvetica, sans-serif' font-style="italic" font-size="37.8" fill="#231f20" text-anchor="end">s. pyr.</text>
<text x="117.5" y="924.6" font-family='"Liberation Sans", Arial, Helvetica, sans-serif' font-style="italic" font-size="37.8" fill="#231f20" text-anchor="end">s. rad.</text>
<text x="120.1" y="1144.9" font-family='"Liberation Sans", Arial, Helvetica, sans-serif' font-style="italic" font-size="37.8" fill="#231f20" text-anchor="end">s. l.-m.</text>
<text x="1927" y="213.1" font-family='"Liberation Sans", Arial, Helvetica, sans-serif' font-style="italic" font-size="41.8" fill="#231f20" text-anchor="start">s. pyr.</text>
<text x="1927" y="760.1" font-family='"Liberation Sans", Arial, Helvetica, sans-serif' font-style="italic" font-size="41.8" fill="#231f20" text-anchor="start">s. rad.</text>
<text x="1927" y="1306.8" font-family='"Liberation Sans", Arial, Helvetica, sans-serif' font-style="italic" font-size="41.8" fill="#231f20" text-anchor="start">s. l.-m.</text>
<path d="M142.2,1569.7 V1659 H243.9" fill="none" stroke="#231f20" stroke-width="3.7" stroke-linejoin="miter"/>
<text x="193" y="1688" font-family='"Liberation Sans", Arial, Helvetica, sans-serif' font-size="25.6" fill="#231f20" text-anchor="middle">50 ms</text>
<text transform="translate(125.8,1613.5) rotate(-90)" font-family='"Liberation Sans", Arial, Helvetica, sans-serif' font-size="25" fill="#231f20" text-anchor="middle">100 μm</text>
<text transform="translate(1033.8,45.9) scale(1,1.035)" font-family='"Liberation Sans", Arial, Helvetica, sans-serif' font-size="54.6" fill="#231f20" text-anchor="middle">LFP</text>
<text transform="translate(1752,45.9) scale(1,1.035)" font-family='"Liberation Sans", Arial, Helvetica, sans-serif' font-size="54.6" fill="#231f20" text-anchor="middle">CSD</text>
<text transform="translate(823,132.4) scale(1.12,1)" font-family='"Liberation Serif", "Times New Roman", serif' font-size="42" fill="#231f20">θ</text>
<text x="845.3" y="134.7" font-family='"Liberation Sans", Arial, Helvetica, sans-serif' font-size="38" fill="#231f20">-</text>
<text x="857.7" y="128.4" font-family='"Liberation Serif", "Times New Roman", serif' font-size="42" fill="#231f20">γ</text>
<text x="874.6" y="144.8" font-family='"Liberation Sans", Arial, Helvetica, sans-serif' font-size="22.8" fill="#231f20">S</text>
<text transform="translate(997,132.4) scale(1.12,1)" font-family='"Liberation Serif", "Times New Roman", serif' font-size="42" fill="#231f20">θ</text>
<text x="1019.3" y="134.7" font-family='"Liberation Sans", Arial, Helvetica, sans-serif' font-size="38" fill="#231f20">-</text>
<text x="1031.7" y="128.4" font-family='"Liberation Serif", "Times New Roman", serif' font-size="42" fill="#231f20">γ</text>
<text x="1048.6" y="144.8" font-family='"Liberation Sans", Arial, Helvetica, sans-serif' font-size="22.8" fill="#231f20">M</text>
<text transform="translate(1175.2,132.4) scale(1.12,1)" font-family='"Liberation Serif", "Times New Roman", serif' font-size="42" fill="#231f20">θ</text>
<text x="1197.5" y="134.7" font-family='"Liberation Sans", Arial, Helvetica, sans-serif' font-size="38" fill="#231f20">-</text>
<text x="1209.9" y="128.4" font-family='"Liberation Serif", "Times New Roman", serif' font-size="42" fill="#231f20">γ</text>
<text x="1226.8" y="144.8" font-family='"Liberation Sans", Arial, Helvetica, sans-serif' font-size="22.8" fill="#231f20">F</text>
<text transform="translate(1543,132.4) scale(1.12,1)" font-family='"Liberation Serif", "Times New Roman", serif' font-size="42" fill="#231f20">θ</text>
<text x="1565.3" y="134.7" font-family='"Liberation Sans", Arial, Helvetica, sans-serif' font-size="38" fill="#231f20">-</text>
<text x="1577.7" y="128.4" font-family='"Liberation Serif", "Times New Roman", serif' font-size="42" fill="#231f20">γ</text>
<text x="1594.6" y="144.8" font-family='"Liberation Sans", Arial, Helvetica, sans-serif' font-size="22.8" fill="#231f20">S</text>
<text transform="translate(1717.1,132.4) scale(1.12,1)" font-family='"Liberation Serif", "Times New Roman", serif' font-size="42" fill="#231f20">θ</text>
<text x="1739.4" y="134.7" font-family='"Liberation Sans", Arial, Helvetica, sans-serif' font-size="38" fill="#231f20">-</text>
<text x="1751.8" y="128.4" font-family='"Liberation Serif", "Times New Roman", serif' font-size="42" fill="#231f20">γ</text>
<text x="1768.7" y="144.8" font-family='"Liberation Sans", Arial, Helvetica, sans-serif' font-size="22.8" fill="#231f20">M</text>
<text transform="translate(1894.8,132.4) scale(1.12,1)" font-family='"Liberation Serif", "Times New Roman", serif' font-size="42" fill="#231f20">θ</text>
<text x="1917.1" y="134.7" font-family='"Liberation Sans", Arial, Helvetica, sans-serif' font-size="38" fill="#231f20">-</text>
<text x="1929.5" y="128.4" font-family='"Liberation Serif", "Times New Roman", serif' font-size="42" fill="#231f20">γ</text>
<text x="1946.4" y="144.8" font-family='"Liberation Sans", Arial, Helvetica, sans-serif' font-size="22.8" fill="#231f20">F</text>
<g stroke="#231f20" fill="none">
<line x1="755" y1="156.2" x2="755" y2="364.6" stroke-width="2.0"/>
<line x1="755" y1="157" x2="760.8" y2="157" stroke-width="1.6"/>
<line x1="755" y1="182.8" x2="760.8" y2="182.8" stroke-width="1.6"/>
<line x1="755" y1="208.7" x2="760.8" y2="208.7" stroke-width="1.6"/>
<line x1="755" y1="234.6" x2="760.8" y2="234.6" stroke-width="1.6"/>
<line x1="755" y1="260.4" x2="760.8" y2="260.4" stroke-width="1.6"/>
<line x1="755" y1="286.2" x2="760.8" y2="286.2" stroke-width="1.6"/>
<line x1="755" y1="312.1" x2="760.8" y2="312.1" stroke-width="1.6"/>
<line x1="755" y1="338" x2="760.8" y2="338" stroke-width="1.6"/>
<line x1="755" y1="363.8" x2="760.8" y2="363.8" stroke-width="1.6"/>
</g>
<text x="750.8" y="158.7" font-family='"Liberation Sans", Arial, Helvetica, sans-serif' font-size="24.5" fill="#231f20" text-anchor="end">.4</text>
<text x="750.8" y="211.2" font-family='"Liberation Sans", Arial, Helvetica, sans-serif' font-size="24.5" fill="#231f20" text-anchor="end">.3</text>
<text x="750.8" y="263.7" font-family='"Liberation Sans", Arial, Helvetica, sans-serif' font-size="24.5" fill="#231f20" text-anchor="end">.2</text>
<text x="750.8" y="317.1" font-family='"Liberation Sans", Arial, Helvetica, sans-serif' font-size="24.5" fill="#231f20" text-anchor="end">.1</text>
<text x="750.8" y="371.3" font-family='"Liberation Sans", Arial, Helvetica, sans-serif' font-size="24.5" fill="#231f20" text-anchor="end">0</text>
<text transform="translate(707.9,261.4) rotate(-90)" font-family='"Liberation Sans", Arial, Helvetica, sans-serif' font-size="25" fill="#231f20" text-anchor="middle">R<tspan font-size="13.5" dy="8" dx="1.5" stroke="#231f20" stroke-width="0.3">n:m</tspan></text>
<g stroke="#231f20" stroke-width="2.5" fill="none">
<path d="M817.5,189.3 V264 M817.5,313.3 V360.3 M804.6,189.3 H830.4 M804.6,360.3 H830.4"/>
<rect x="791.5" y="264" width="52.1" height="49.3" fill="#72c267" stroke-width="2.4"/>
<line x1="791.5" y1="294.7" x2="843.5" y2="294.7" stroke-width="2.4"/>
</g>
<g stroke="#231f20" stroke-width="2.5" fill="none">
<path d="M896.7,182 V256.7 M896.7,316 V358.7 M883.8,182 H909.6 M883.8,358.7 H909.6"/>
<rect x="870.7" y="256.7" width="52.1" height="59.3" fill="#b9ddae" stroke-width="2.4"/>
<line x1="870.7" y1="289" x2="922.8" y2="289" stroke-width="2.4"/>
</g>
<g stroke="#231f20" stroke-width="2.5" fill="none">
<path d="M992.8,222 V279 M992.8,328.7 V356.3 M979.9,222 H1005.7 M979.9,356.3 H1005.7"/>
<rect x="966.8" y="279" width="52.1" height="49.7" fill="#eb2428" stroke-width="2.4"/>
<line x1="966.8" y1="301.7" x2="1018.8" y2="301.7" stroke-width="2.4"/>
</g>
<g stroke="#231f20" stroke-width="2.5" fill="none">
<path d="M1072,229.3 V286 M1072,328 V357.7 M1059.1,229.3 H1084.9 M1059.1,357.7 H1084.9"/>
<rect x="1046" y="286" width="52.1" height="42" fill="#f69b82" stroke-width="2.4"/>
<line x1="1046" y1="306" x2="1098" y2="306" stroke-width="2.4"/>
</g>
<g stroke="#231f20" stroke-width="2.5" fill="none">
<path d="M1168.4,270.3 V307.7 M1168.4,338.3 V361.7 M1155.5,270.3 H1181.3 M1155.5,361.7 H1181.3"/>
<rect x="1142.4" y="307.7" width="52.1" height="30.6" fill="#3b56a6" stroke-width="2.4"/>
<line x1="1142.4" y1="326.7" x2="1194.5" y2="326.7" stroke-width="2.4"/>
</g>
<g stroke="#231f20" stroke-width="2.5" fill="none">
<path d="M1247.8,262.3 V305.3 M1247.8,337.3 V362.7 M1234.9,262.3 H1260.7 M1234.9,362.7 H1260.7"/>
<rect x="1221.8" y="305.3" width="52.1" height="32" fill="#9599cf" stroke-width="2.4"/>
<line x1="1221.8" y1="323.7" x2="1273.8" y2="323.7" stroke-width="2.4"/>
</g>
<text x="786.1" y="398" font-family='"Liberation Sans", Arial, Helvetica, sans-serif' font-size="23.5" fill="#231f20" textLength="62.8" lengthAdjust="spacingAndGlyphs">Original</text>
<text x="862" y="398" font-family='"Liberation Sans", Arial, Helvetica, sans-serif' font-size="23.5" fill="#231f20" textLength="69.5" lengthAdjust="spacingAndGlyphs">Random</text>
<text x="961.4" y="398" font-family='"Liberation Sans", Arial, Helvetica, sans-serif' font-size="23.5" fill="#231f20" textLength="62.8" lengthAdjust="spacingAndGlyphs">Original</text>
<text x="1037.2" y="398" font-family='"Liberation Sans", Arial, Helvetica, sans-serif' font-size="23.5" fill="#231f20" textLength="69.5" lengthAdjust="spacingAndGlyphs">Random</text>
<text x="1137" y="398" font-family='"Liberation Sans", Arial, Helvetica, sans-serif' font-size="23.5" fill="#231f20" textLength="62.8" lengthAdjust="spacingAndGlyphs">Original</text>
<text x="1213" y="398" font-family='"Liberation Sans", Arial, Helvetica, sans-serif' font-size="23.5" fill="#231f20" textLength="69.5" lengthAdjust="spacingAndGlyphs">Random</text>
<g stroke="#231f20" fill="none">
<line x1="755" y1="477.2" x2="755" y2="685.8" stroke-width="2.0"/>
<line x1="755" y1="478" x2="760.8" y2="478" stroke-width="1.6"/>
<line x1="755" y1="503.9" x2="760.8" y2="503.9" stroke-width="1.6"/>
<line x1="755" y1="529.8" x2="760.8" y2="529.8" stroke-width="1.6"/>
<line x1="755" y1="555.6" x2="760.8" y2="555.6" stroke-width="1.6"/>
<line x1="755" y1="581.5" x2="760.8" y2="581.5" stroke-width="1.6"/>
<line x1="755" y1="607.4" x2="760.8" y2="607.4" stroke-width="1.6"/>
<line x1="755" y1="633.2" x2="760.8" y2="633.2" stroke-width="1.6"/>
<line x1="755" y1="659.1" x2="760.8" y2="659.1" stroke-width="1.6"/>
<line x1="755" y1="685" x2="760.8" y2="685" stroke-width="1.6"/>
</g>
<text x="750.8" y="481.2" font-family='"Liberation Sans", Arial, Helvetica, sans-serif' font-size="24.5" fill="#231f20" text-anchor="end">.4</text>
<text x="750.8" y="533.8" font-family='"Liberation Sans", Arial, Helvetica, sans-serif' font-size="24.5" fill="#231f20" text-anchor="end">.3</text>
<text x="750.8" y="586.1" font-family='"Liberation Sans", Arial, Helvetica, sans-serif' font-size="24.5" fill="#231f20" text-anchor="end">.2</text>
<text x="750.8" y="639.8" font-family='"Liberation Sans", Arial, Helvetica, sans-serif' font-size="24.5" fill="#231f20" text-anchor="end">.1</text>
<text x="750.8" y="693.8" font-family='"Liberation Sans", Arial, Helvetica, sans-serif' font-size="24.5" fill="#231f20" text-anchor="end">0</text>
<text transform="translate(707.9,582.5) rotate(-90)" font-family='"Liberation Sans", Arial, Helvetica, sans-serif' font-size="25" fill="#231f20" text-anchor="middle">R<tspan font-size="13.5" dy="8" dx="1.5" stroke="#231f20" stroke-width="0.3">n:m</tspan></text>
<g stroke="#231f20" stroke-width="2.5" fill="none">
<path d="M817.5,508 V576.7 M817.5,627.3 V675.3 M804.6,508 H830.4 M804.6,675.3 H830.4"/>
<rect x="791.5" y="576.7" width="52.1" height="50.6" fill="#72c267" stroke-width="2.4"/>
<line x1="791.5" y1="601" x2="843.5" y2="601" stroke-width="2.4"/>
</g>
<g stroke="#231f20" stroke-width="2.5" fill="none">
<path d="M896.7,484.7 V575 M896.7,636.7 V678 M883.8,484.7 H909.6 M883.8,678 H909.6"/>
<rect x="870.7" y="575" width="52.1" height="61.7" fill="#b9ddae" stroke-width="2.4"/>
<line x1="870.7" y1="604.7" x2="922.8" y2="604.7" stroke-width="2.4"/>
</g>
<g stroke="#231f20" stroke-width="2.5" fill="none">
<path d="M992.8,560.7 V615 M992.8,653 V682 M979.9,560.7 H1005.7 M979.9,682 H1005.7"/>
<rect x="966.8" y="615" width="52.1" height="38" fill="#eb2428" stroke-width="2.4"/>
<line x1="966.8" y1="632.3" x2="1018.8" y2="632.3" stroke-width="2.4"/>
</g>
<g stroke="#231f20" stroke-width="2.5" fill="none">
<path d="M1072,544.7 V603.3 M1072,643.3 V676 M1059.1,544.7 H1084.9 M1059.1,676 H1084.9"/>
<rect x="1046" y="603.3" width="52.1" height="40" fill="#f69b82" stroke-width="2.4"/>
<line x1="1046" y1="625.3" x2="1098" y2="625.3" stroke-width="2.4"/>
</g>
<g stroke="#231f20" stroke-width="2.5" fill="none">
<path d="M1168.4,564.3 V621.3 M1168.4,660.7 V677.3 M1155.5,564.3 H1181.3 M1155.5,677.3 H1181.3"/>
<rect x="1142.4" y="621.3" width="52.1" height="39.4" fill="#3b56a6" stroke-width="2.4"/>
<line x1="1142.4" y1="646.7" x2="1194.5" y2="646.7" stroke-width="2.4"/>
</g>
<g stroke="#231f20" stroke-width="2.5" fill="none">
<path d="M1247.8,581.7 V626.7 M1247.8,658 V679.3 M1234.9,581.7 H1260.7 M1234.9,679.3 H1260.7"/>
<rect x="1221.8" y="626.7" width="52.1" height="31.3" fill="#9599cf" stroke-width="2.4"/>
<line x1="1221.8" y1="642" x2="1273.8" y2="642" stroke-width="2.4"/>
</g>
<text x="786.1" y="719" font-family='"Liberation Sans", Arial, Helvetica, sans-serif' font-size="23.5" fill="#231f20" textLength="62.8" lengthAdjust="spacingAndGlyphs">Original</text>
<text x="862" y="719" font-family='"Liberation Sans", Arial, Helvetica, sans-serif' font-size="23.5" fill="#231f20" textLength="69.5" lengthAdjust="spacingAndGlyphs">Random</text>
<text x="961.4" y="719" font-family='"Liberation Sans", Arial, Helvetica, sans-serif' font-size="23.5" fill="#231f20" textLength="62.8" lengthAdjust="spacingAndGlyphs">Original</text>
<text x="1037.2" y="719" font-family='"Liberation Sans", Arial, Helvetica, sans-serif' font-size="23.5" fill="#231f20" textLength="69.5" lengthAdjust="spacingAndGlyphs">Random</text>
<text x="1137" y="719" font-family='"Liberation Sans", Arial, Helvetica, sans-serif' font-size="23.5" fill="#231f20" textLength="62.8" lengthAdjust="spacingAndGlyphs">Original</text>
<text x="1213" y="719" font-family='"Liberation Sans", Arial, Helvetica, sans-serif' font-size="23.5" fill="#231f20" textLength="69.5" lengthAdjust="spacingAndGlyphs">Random</text>
<g stroke="#231f20" fill="none">
<line x1="755" y1="800" x2="755" y2="1008.5" stroke-width="2.0"/>
<line x1="755" y1="800.7" x2="760.8" y2="800.7" stroke-width="1.6"/>
<line x1="755" y1="826.6" x2="760.8" y2="826.6" stroke-width="1.6"/>
<line x1="755" y1="852.5" x2="760.8" y2="852.5" stroke-width="1.6"/>
<line x1="755" y1="878.3" x2="760.8" y2="878.3" stroke-width="1.6"/>
<line x1="755" y1="904.2" x2="760.8" y2="904.2" stroke-width="1.6"/>
<line x1="755" y1="930.1" x2="760.8" y2="930.1" stroke-width="1.6"/>
<line x1="755" y1="956" x2="760.8" y2="956" stroke-width="1.6"/>
<line x1="755" y1="981.8" x2="760.8" y2="981.8" stroke-width="1.6"/>
<line x1="755" y1="1007.7" x2="760.8" y2="1007.7" stroke-width="1.6"/>
</g>
<text x="750.8" y="803.1" font-family='"Liberation Sans", Arial, Helvetica, sans-serif' font-size="24.5" fill="#231f20" text-anchor="end">.4</text>
<text x="750.8" y="855.8" font-family='"Liberation Sans", Arial, Helvetica, sans-serif' font-size="24.5" fill="#231f20" text-anchor="end">.3</text>
<text x="750.8" y="908.2" font-family='"Liberation Sans", Arial, Helvetica, sans-serif' font-size="24.5" fill="#231f20" text-anchor="end">.2</text>
<text x="750.8" y="961" font-family='"Liberation Sans", Arial, Helvetica, sans-serif' font-size="24.5" fill="#231f20" text-anchor="end">.1</text>
<text x="750.8" y="1015.5" font-family='"Liberation Sans", Arial, Helvetica, sans-serif' font-size="24.5" fill="#231f20" text-anchor="end">0</text>
<text transform="translate(707.9,905.2) rotate(-90)" font-family='"Liberation Sans", Arial, Helvetica, sans-serif' font-size="25" fill="#231f20" text-anchor="middle">R<tspan font-size="13.5" dy="8" dx="1.5" stroke="#231f20" stroke-width="0.3">n:m</tspan></text>
<g stroke="#231f20" stroke-width="2.5" fill="none">
<path d="M817.5,849.3 V899.7 M817.5,943.7 V1001 M804.6,849.3 H830.4 M804.6,1001 H830.4"/>
<rect x="791.5" y="899.7" width="52.1" height="44" fill="#72c267" stroke-width="2.4"/>
<line x1="791.5" y1="923.7" x2="843.5" y2="923.7" stroke-width="2.4"/>
</g>
<g stroke="#231f20" stroke-width="2.5" fill="none">
<path d="M896.7,838 V907 M896.7,963.7 V1004.7 M883.8,838 H909.6 M883.8,1004.7 H909.6"/>
<rect x="870.7" y="907" width="52.1" height="56.7" fill="#b9ddae" stroke-width="2.4"/>
<line x1="870.7" y1="936" x2="922.8" y2="936" stroke-width="2.4"/>
</g>
<g stroke="#231f20" stroke-width="2.5" fill="none">
<path d="M992.8,884 V936 M992.8,976.7 V1005 M979.9,884 H1005.7 M979.9,1005 H1005.7"/>
<rect x="966.8" y="936" width="52.1" height="40.7" fill="#eb2428" stroke-width="2.4"/>
<line x1="966.8" y1="960" x2="1018.8" y2="960" stroke-width="2.4"/>
</g>
<g stroke="#231f20" stroke-width="2.5" fill="none">
<path d="M1072,875 V933.3 M1072,974.7 V1004 M1059.1,875 H1084.9 M1059.1,1004 H1084.9"/>
<rect x="1046" y="933.3" width="52.1" height="41.4" fill="#f69b82" stroke-width="2.4"/>
<line x1="1046" y1="956.3" x2="1098" y2="956.3" stroke-width="2.4"/>
</g>
<g stroke="#231f20" stroke-width="2.5" fill="none">
<path d="M1168.4,895.3 V946.3 M1168.4,982.3 V1001.3 M1155.5,895.3 H1181.3 M1155.5,1001.3 H1181.3"/>
<rect x="1142.4" y="946.3" width="52.1" height="36" fill="#3b56a6" stroke-width="2.4"/>
<line x1="1142.4" y1="968.7" x2="1194.5" y2="968.7" stroke-width="2.4"/>
</g>
<g stroke="#231f20" stroke-width="2.5" fill="none">
<path d="M1247.8,908.7 V949.3 M1247.8,977.3 V1003 M1234.9,908.7 H1260.7 M1234.9,1003 H1260.7"/>
<rect x="1221.8" y="949.3" width="52.1" height="28" fill="#9599cf" stroke-width="2.4"/>
<line x1="1221.8" y1="963.7" x2="1273.8" y2="963.7" stroke-width="2.4"/>
</g>
<text x="786.1" y="1040.7" font-family='"Liberation Sans", Arial, Helvetica, sans-serif' font-size="23.5" fill="#231f20" textLength="62.8" lengthAdjust="spacingAndGlyphs">Original</text>
<text x="862" y="1040.7" font-family='"Liberation Sans", Arial, Helvetica, sans-serif' font-size="23.5" fill="#231f20" textLength="69.5" lengthAdjust="spacingAndGlyphs">Random</text>
<text x="961.4" y="1040.7" font-family='"Liberation Sans", Arial, Helvetica, sans-serif' font-size="23.5" fill="#231f20" textLength="62.8" lengthAdjust="spacingAndGlyphs">Original</text>
<text x="1037.2" y="1040.7" font-family='"Liberation Sans", Arial, Helvetica, sans-serif' font-size="23.5" fill="#231f20" textLength="69.5" lengthAdjust="spacingAndGlyphs">Random</text>
<text x="1137" y="1040.7" font-family='"Liberation Sans", Arial, Helvetica, sans-serif' font-size="23.5" fill="#231f20" textLength="62.8" lengthAdjust="spacingAndGlyphs">Original</text>
<text x="1213" y="1040.7" font-family='"Liberation Sans", Arial, Helvetica, sans-serif' font-size="23.5" fill="#231f20" textLength="69.5" lengthAdjust="spacingAndGlyphs">Random</text>
<g stroke="#231f20" fill="none">
<line x1="755" y1="1122.5" x2="755" y2="1331.2" stroke-width="2.0"/>
<line x1="755" y1="1123.3" x2="760.8" y2="1123.3" stroke-width="1.6"/>
<line x1="755" y1="1149.2" x2="760.8" y2="1149.2" stroke-width="1.6"/>
<line x1="755" y1="1175.1" x2="760.8" y2="1175.1" stroke-width="1.6"/>
<line x1="755" y1="1201" x2="760.8" y2="1201" stroke-width="1.6"/>
<line x1="755" y1="1226.9" x2="760.8" y2="1226.9" stroke-width="1.6"/>
<line x1="755" y1="1252.8" x2="760.8" y2="1252.8" stroke-width="1.6"/>
<line x1="755" y1="1278.7" x2="760.8" y2="1278.7" stroke-width="1.6"/>
<line x1="755" y1="1304.6" x2="760.8" y2="1304.6" stroke-width="1.6"/>
<line x1="755" y1="1330.5" x2="760.8" y2="1330.5" stroke-width="1.6"/>
</g>
<text x="750.8" y="1123.6" font-family='"Liberation Sans", Arial, Helvetica, sans-serif' font-size="24.5" fill="#231f20" text-anchor="end">.4</text>
<text x="750.8" y="1175.6" font-family='"Liberation Sans", Arial, Helvetica, sans-serif' font-size="24.5" fill="#231f20" text-anchor="end">.3</text>
<text x="750.8" y="1229" font-family='"Liberation Sans", Arial, Helvetica, sans-serif' font-size="24.5" fill="#231f20" text-anchor="end">.2</text>
<text x="750.8" y="1282.3" font-family='"Liberation Sans", Arial, Helvetica, sans-serif' font-size="24.5" fill="#231f20" text-anchor="end">.1</text>
<text x="750.8" y="1337.5" font-family='"Liberation Sans", Arial, Helvetica, sans-serif' font-size="24.5" fill="#231f20" text-anchor="end">0</text>
<text transform="translate(707.9,1227.9) rotate(-90)" font-family='"Liberation Sans", Arial, Helvetica, sans-serif' font-size="25" fill="#231f20" text-anchor="middle">R<tspan font-size="13.5" dy="8" dx="1.5" stroke="#231f20" stroke-width="0.3">n:m</tspan></text>
<g stroke="#231f20" stroke-width="2.5" fill="none">
<path d="M817.5,1155 V1226.7 M817.5,1287 V1320.7 M804.6,1155 H830.4 M804.6,1320.7 H830.4"/>
<rect x="791.5" y="1226.7" width="52.1" height="60.3" fill="#72c267" stroke-width="2.4"/>
<line x1="791.5" y1="1266.3" x2="843.5" y2="1266.3" stroke-width="2.4"/>
</g>
<g stroke="#231f20" stroke-width="2.5" fill="none">
<path d="M896.7,1163.3 V1240 M896.7,1291.3 V1325.7 M883.8,1163.3 H909.6 M883.8,1325.7 H909.6"/>
<rect x="870.7" y="1240" width="52.1" height="51.3" fill="#b9ddae" stroke-width="2.4"/>
<line x1="870.7" y1="1265.3" x2="922.8" y2="1265.3" stroke-width="2.4"/>
</g>
<g stroke="#231f20" stroke-width="2.5" fill="none">
<path d="M992.8,1203.3 V1258.7 M992.8,1297 V1324.3 M979.9,1203.3 H1005.7 M979.9,1324.3 H1005.7"/>
<rect x="966.8" y="1258.7" width="52.1" height="38.3" fill="#eb2428" stroke-width="2.4"/>
<line x1="966.8" y1="1279.3" x2="1018.8" y2="1279.3" stroke-width="2.4"/>
</g>
<g stroke="#231f20" stroke-width="2.5" fill="none">
<path d="M1072,1184.7 V1251 M1072,1296.7 V1325 M1059.1,1184.7 H1084.9 M1059.1,1325 H1084.9"/>
<rect x="1046" y="1251" width="52.1" height="45.7" fill="#f69b82" stroke-width="2.4"/>
<line x1="1046" y1="1275" x2="1098" y2="1275" stroke-width="2.4"/>
</g>
<g stroke="#231f20" stroke-width="2.5" fill="none">
<path d="M1168.4,1243.7 V1275.7 M1168.4,1304.7 V1328.3 M1155.5,1243.7 H1181.3 M1155.5,1328.3 H1181.3"/>
<rect x="1142.4" y="1275.7" width="52.1" height="29" fill="#3b56a6" stroke-width="2.4"/>
<line x1="1142.4" y1="1293.7" x2="1194.5" y2="1293.7" stroke-width="2.4"/>
</g>
<g stroke="#231f20" stroke-width="2.5" fill="none">
<path d="M1247.8,1240.7 V1278.3 M1247.8,1304.3 V1327 M1234.9,1240.7 H1260.7 M1234.9,1327 H1260.7"/>
<rect x="1221.8" y="1278.3" width="52.1" height="26" fill="#9599cf" stroke-width="2.4"/>
<line x1="1221.8" y1="1291" x2="1273.8" y2="1291" stroke-width="2.4"/>
</g>
<text x="786.1" y="1364" font-family='"Liberation Sans", Arial, Helvetica, sans-serif' font-size="23.5" fill="#231f20" textLength="62.8" lengthAdjust="spacingAndGlyphs">Original</text>
<text x="862" y="1364" font-family='"Liberation Sans", Arial, Helvetica, sans-serif' font-size="23.5" fill="#231f20" textLength="69.5" lengthAdjust="spacingAndGlyphs">Random</text>
<text x="961.4" y="1364" font-family='"Liberation Sans", Arial, Helvetica, sans-serif' font-size="23.5" fill="#231f20" textLength="62.8" lengthAdjust="spacingAndGlyphs">Original</text>
<text x="1037.2" y="1364" font-family='"Liberation Sans", Arial, Helvetica, sans-serif' font-size="23.5" fill="#231f20" textLength="69.5" lengthAdjust="spacingAndGlyphs">Random</text>
<text x="1137" y="1364" font-family='"Liberation Sans", Arial, Helvetica, sans-serif' font-size="23.5" fill="#231f20" textLength="62.8" lengthAdjust="spacingAndGlyphs">Original</text>
<text x="1213" y="1364" font-family='"Liberation Sans", Arial, Helvetica, sans-serif' font-size="23.5" fill="#231f20" textLength="69.5" lengthAdjust="spacingAndGlyphs">Random</text>
<g stroke="#231f20" fill="none">
<line x1="755" y1="1446" x2="755" y2="1654.5" stroke-width="2.0"/>
<line x1="755" y1="1446.7" x2="760.8" y2="1446.7" stroke-width="1.6"/>
<line x1="755" y1="1472.6" x2="760.8" y2="1472.6" stroke-width="1.6"/>
<line x1="755" y1="1498.5" x2="760.8" y2="1498.5" stroke-width="1.6"/>
<line x1="755" y1="1524.3" x2="760.8" y2="1524.3" stroke-width="1.6"/>
<line x1="755" y1="1550.2" x2="760.8" y2="1550.2" stroke-width="1.6"/>
<line x1="755" y1="1576.1" x2="760.8" y2="1576.1" stroke-width="1.6"/>
<line x1="755" y1="1602" x2="760.8" y2="1602" stroke-width="1.6"/>
<line x1="755" y1="1627.8" x2="760.8" y2="1627.8" stroke-width="1.6"/>
<line x1="755" y1="1653.7" x2="760.8" y2="1653.7" stroke-width="1.6"/>
</g>
<text x="750.8" y="1442.9" font-family='"Liberation Sans", Arial, Helvetica, sans-serif' font-size="24.5" fill="#231f20" text-anchor="end">.4</text>
<text x="750.8" y="1494.2" font-family='"Liberation Sans", Arial, Helvetica, sans-serif' font-size="24.5" fill="#231f20" text-anchor="end">.3</text>
<text x="750.8" y="1548.8" font-family='"Liberation Sans", Arial, Helvetica, sans-serif' font-size="24.5" fill="#231f20" text-anchor="end">.2</text>
<text x="750.8" y="1602" font-family='"Liberation Sans", Arial, Helvetica, sans-serif' font-size="24.5" fill="#231f20" text-anchor="end">.1</text>
<text x="750.8" y="1657.2" font-family='"Liberation Sans", Arial, Helvetica, sans-serif' font-size="24.5" fill="#231f20" text-anchor="end">0</text>
<text transform="translate(707.9,1551.2) rotate(-90)" font-family='"Liberation Sans", Arial, Helvetica, sans-serif' font-size="25" fill="#231f20" text-anchor="middle">R<tspan font-size="13.5" dy="8" dx="1.5" stroke="#231f20" stroke-width="0.3">n:m</tspan></text>
<g stroke="#231f20" stroke-width="2.5" fill="none">
<path d="M817.5,1475.3 V1554.3 M817.5,1608.3 V1642.7 M804.6,1475.3 H830.4 M804.6,1642.7 H830.4"/>
<rect x="791.5" y="1554.3" width="52.1" height="54" fill="#72c267" stroke-width="2.4"/>
<line x1="791.5" y1="1586.7" x2="843.5" y2="1586.7" stroke-width="2.4"/>
</g>
<g stroke="#231f20" stroke-width="2.5" fill="none">
<path d="M896.7,1496.7 V1560.7 M896.7,1610.7 V1651 M883.8,1496.7 H909.6 M883.8,1651 H909.6"/>
<rect x="870.7" y="1560.7" width="52.1" height="50" fill="#b9ddae" stroke-width="2.4"/>
<line x1="870.7" y1="1584.3" x2="922.8" y2="1584.3" stroke-width="2.4"/>
</g>
<g stroke="#231f20" stroke-width="2.5" fill="none">
<path d="M992.8,1515.3 V1573.3 M992.8,1617.3 V1649 M979.9,1515.3 H1005.7 M979.9,1649 H1005.7"/>
<rect x="966.8" y="1573.3" width="52.1" height="44" fill="#eb2428" stroke-width="2.4"/>
<line x1="966.8" y1="1597.3" x2="1018.8" y2="1597.3" stroke-width="2.4"/>
</g>
<g stroke="#231f20" stroke-width="2.5" fill="none">
<path d="M1072,1515.7 V1577.7 M1072,1620.3 V1647 M1059.1,1515.7 H1084.9 M1059.1,1647 H1084.9"/>
<rect x="1046" y="1577.7" width="52.1" height="42.6" fill="#f69b82" stroke-width="2.4"/>
<line x1="1046" y1="1599" x2="1098" y2="1599" stroke-width="2.4"/>
</g>
<g stroke="#231f20" stroke-width="2.5" fill="none">
<path d="M1168.4,1558.3 V1596.7 M1168.4,1626.7 V1648.7 M1155.5,1558.3 H1181.3 M1155.5,1648.7 H1181.3"/>
<rect x="1142.4" y="1596.7" width="52.1" height="30" fill="#3b56a6" stroke-width="2.4"/>
<line x1="1142.4" y1="1615.3" x2="1194.5" y2="1615.3" stroke-width="2.4"/>
</g>
<g stroke="#231f20" stroke-width="2.5" fill="none">
<path d="M1247.8,1547.7 V1595.7 M1247.8,1628.7 V1651 M1234.9,1547.7 H1260.7 M1234.9,1651 H1260.7"/>
<rect x="1221.8" y="1595.7" width="52.1" height="33" fill="#9599cf" stroke-width="2.4"/>
<line x1="1221.8" y1="1614" x2="1273.8" y2="1614" stroke-width="2.4"/>
</g>
<text x="786.1" y="1687.7" font-family='"Liberation Sans", Arial, Helvetica, sans-serif' font-size="23.5" fill="#231f20" textLength="62.8" lengthAdjust="spacingAndGlyphs">Original</text>
<text x="862" y="1687.7" font-family='"Liberation Sans", Arial, Helvetica, sans-serif' font-size="23.5" fill="#231f20" textLength="69.5" lengthAdjust="spacingAndGlyphs">Random</text>
<text x="961.4" y="1687.7" font-family='"Liberation Sans", Arial, Helvetica, sans-serif' font-size="23.5" fill="#231f20" textLength="62.8" lengthAdjust="spacingAndGlyphs">Original</text>
<text x="1037.2" y="1687.7" font-family='"Liberation Sans", Arial, Helvetica, sans-serif' font-size="23.5" fill="#231f20" textLength="69.5" lengthAdjust="spacingAndGlyphs">Random</text>
<text x="1137" y="1687.7" font-family='"Liberation Sans", Arial, Helvetica, sans-serif' font-size="23.5" fill="#231f20" textLength="62.8" lengthAdjust="spacingAndGlyphs">Original</text>
<text x="1213" y="1687.7" font-family='"Liberation Sans", Arial, Helvetica, sans-serif' font-size="23.5" fill="#231f20" textLength="69.5" lengthAdjust="spacingAndGlyphs">Random</text>
<g stroke="#231f20" fill="none">
<line x1="1480.1" y1="162.6" x2="1480.1" y2="533" stroke-width="2.0"/>
<line x1="1480.1" y1="163.3" x2="1484.6" y2="163.3" stroke-width="1.6"/>
<line x1="1480.1" y1="209.4" x2="1484.6" y2="209.4" stroke-width="1.6"/>
<line x1="1480.1" y1="255.6" x2="1484.6" y2="255.6" stroke-width="1.6"/>
<line x1="1480.1" y1="301.7" x2="1484.6" y2="301.7" stroke-width="1.6"/>
<line x1="1480.1" y1="347.8" x2="1484.6" y2="347.8" stroke-width="1.6"/>
<line x1="1480.1" y1="393.9" x2="1484.6" y2="393.9" stroke-width="1.6"/>
<line x1="1480.1" y1="440" x2="1484.6" y2="440" stroke-width="1.6"/>
<line x1="1480.1" y1="486.2" x2="1484.6" y2="486.2" stroke-width="1.6"/>
<line x1="1480.1" y1="532.3" x2="1484.6" y2="532.3" stroke-width="1.6"/>
</g>
<text x="1467.8" y="174.1" font-family='"Liberation Sans", Arial, Helvetica, sans-serif' font-size="28.5" fill="#231f20" text-anchor="end">.4</text>
<text x="1467.8" y="262.2" font-family='"Liberation Sans", Arial, Helvetica, sans-serif' font-size="28.5" fill="#231f20" text-anchor="end">.3</text>
<text x="1467.8" y="354.5" font-family='"Liberation Sans", Arial, Helvetica, sans-serif' font-size="28.5" fill="#231f20" text-anchor="end">.2</text>
<text x="1467.8" y="440.9" font-family='"Liberation Sans", Arial, Helvetica, sans-serif' font-size="28.5" fill="#231f20" text-anchor="end">.1</text>
<text x="1467.8" y="533.7" font-family='"Liberation Sans", Arial, Helvetica, sans-serif' font-size="28.5" fill="#231f20" text-anchor="end">0</text>
<text transform="translate(1404.7,348.3) rotate(-90)" font-family='"Liberation Sans", Arial, Helvetica, sans-serif' font-size="32" fill="#231f20" text-anchor="middle">R<tspan font-size="17" dy="12.3" dx="1.5" stroke="#231f20" stroke-width="0.3">n:m</tspan></text>
<g stroke="#231f20" stroke-width="2.5" fill="none">
<path d="M1537,268.3 V365 M1537,448.3 V530.3 M1525.7,268.3 H1548.3 M1525.7,530.3 H1548.3"/>
<rect x="1513.9" y="365" width="46.2" height="83.3" fill="#72c267" stroke-width="2.4"/>
<line x1="1513.9" y1="410.7" x2="1560.1" y2="410.7" stroke-width="2.4"/>
</g>
<g stroke="#231f20" stroke-width="2.5" fill="none">
<path d="M1616.5,219.3 V352 M1616.5,443.3 V515.7 M1605.2,219.3 H1627.8 M1605.2,515.7 H1627.8"/>
<rect x="1593.4" y="352" width="46.2" height="91.3" fill="#b9ddae" stroke-width="2.4"/>
<line x1="1593.4" y1="402.7" x2="1639.6" y2="402.7" stroke-width="2.4"/>
</g>
<g stroke="#231f20" stroke-width="2.5" fill="none">
<path d="M1712.3,299 V389 M1712.3,466.3 V531 M1701,299 H1723.6 M1701,531 H1723.6"/>
<rect x="1689.2" y="389" width="46.2" height="77.3" fill="#eb2428" stroke-width="2.4"/>
<line x1="1689.2" y1="432.7" x2="1735.4" y2="432.7" stroke-width="2.4"/>
</g>
<g stroke="#231f20" stroke-width="2.5" fill="none">
<path d="M1792,304 V389 M1792,461.3 V528.3 M1780.7,304 H1803.3 M1780.7,528.3 H1803.3"/>
<rect x="1768.9" y="389" width="46.2" height="72.3" fill="#f69b82" stroke-width="2.4"/>
<line x1="1768.9" y1="423.3" x2="1815.1" y2="423.3" stroke-width="2.4"/>
</g>
<g stroke="#231f20" stroke-width="2.5" fill="none">
<path d="M1888.2,344.7 V425.3 M1888.2,485.7 V521.3 M1876.9,344.7 H1899.5 M1876.9,521.3 H1899.5"/>
<rect x="1865.1" y="425.3" width="46.2" height="60.4" fill="#3b56a6" stroke-width="2.4"/>
<line x1="1865.1" y1="457.3" x2="1911.3" y2="457.3" stroke-width="2.4"/>
</g>
<g stroke="#231f20" stroke-width="2.5" fill="none">
<path d="M1967.7,324 V415 M1967.7,484 V525.7 M1956.4,324 H1979 M1956.4,525.7 H1979"/>
<rect x="1944.6" y="415" width="46.2" height="69" fill="#9599cf" stroke-width="2.4"/>
<line x1="1944.6" y1="454" x2="1990.8" y2="454" stroke-width="2.4"/>
</g>
<text x="1505.6" y="576.7" font-family='"Liberation Sans", Arial, Helvetica, sans-serif' font-size="23.5" fill="#231f20" textLength="62.8" lengthAdjust="spacingAndGlyphs">Original</text>
<text x="1581.8" y="576.7" font-family='"Liberation Sans", Arial, Helvetica, sans-serif' font-size="23.5" fill="#231f20" textLength="69.5" lengthAdjust="spacingAndGlyphs">Random</text>
<text x="1680.9" y="576.7" font-family='"Liberation Sans", Arial, Helvetica, sans-serif' font-size="23.5" fill="#231f20" textLength="62.8" lengthAdjust="spacingAndGlyphs">Original</text>
<text x="1757.2" y="576.7" font-family='"Liberation Sans", Arial, Helvetica, sans-serif' font-size="23.5" fill="#231f20" textLength="69.5" lengthAdjust="spacingAndGlyphs">Random</text>
<text x="1856.8" y="576.7" font-family='"Liberation Sans", Arial, Helvetica, sans-serif' font-size="23.5" fill="#231f20" textLength="62.8" lengthAdjust="spacingAndGlyphs">Original</text>
<text x="1933" y="576.7" font-family='"Liberation Sans", Arial, Helvetica, sans-serif' font-size="23.5" fill="#231f20" textLength="69.5" lengthAdjust="spacingAndGlyphs">Random</text>
<g stroke="#231f20" fill="none">
<line x1="1480.1" y1="714" x2="1480.1" y2="1084.2" stroke-width="2.0"/>
<line x1="1480.1" y1="714.7" x2="1484.6" y2="714.7" stroke-width="1.6"/>
<line x1="1480.1" y1="760.8" x2="1484.6" y2="760.8" stroke-width="1.6"/>
<line x1="1480.1" y1="806.9" x2="1484.6" y2="806.9" stroke-width="1.6"/>
<line x1="1480.1" y1="853" x2="1484.6" y2="853" stroke-width="1.6"/>
<line x1="1480.1" y1="899.1" x2="1484.6" y2="899.1" stroke-width="1.6"/>
<line x1="1480.1" y1="945.2" x2="1484.6" y2="945.2" stroke-width="1.6"/>
<line x1="1480.1" y1="991.3" x2="1484.6" y2="991.3" stroke-width="1.6"/>
<line x1="1480.1" y1="1037.4" x2="1484.6" y2="1037.4" stroke-width="1.6"/>
<line x1="1480.1" y1="1083.5" x2="1484.6" y2="1083.5" stroke-width="1.6"/>
</g>
<text x="1467.8" y="728.7" font-family='"Liberation Sans", Arial, Helvetica, sans-serif' font-size="28.5" fill="#231f20" text-anchor="end">.4</text>
<text x="1467.8" y="817.1" font-family='"Liberation Sans", Arial, Helvetica, sans-serif' font-size="28.5" fill="#231f20" text-anchor="end">.3</text>
<text x="1467.8" y="907.8" font-family='"Liberation Sans", Arial, Helvetica, sans-serif' font-size="28.5" fill="#231f20" text-anchor="end">.2</text>
<text x="1467.8" y="994.8" font-family='"Liberation Sans", Arial, Helvetica, sans-serif' font-size="28.5" fill="#231f20" text-anchor="end">.1</text>
<text x="1467.8" y="1087" font-family='"Liberation Sans", Arial, Helvetica, sans-serif' font-size="28.5" fill="#231f20" text-anchor="end">0</text>
<text transform="translate(1404.7,899.6) rotate(-90)" font-family='"Liberation Sans", Arial, Helvetica, sans-serif' font-size="32" fill="#231f20" text-anchor="middle">R<tspan font-size="17" dy="12.3" dx="1.5" stroke="#231f20" stroke-width="0.3">n:m</tspan></text>
<g stroke="#231f20" stroke-width="2.5" fill="none">
<path d="M1537,771.7 V906.7 M1537,1003.3 V1061.3 M1525.7,771.7 H1548.3 M1525.7,1061.3 H1548.3"/>
<rect x="1513.9" y="906.7" width="46.2" height="96.6" fill="#72c267" stroke-width="2.4"/>
<line x1="1513.9" y1="956" x2="1560.1" y2="956" stroke-width="2.4"/>
</g>
<g stroke="#231f20" stroke-width="2.5" fill="none">
<path d="M1616.5,749 V896.3 M1616.5,1001 V1074.3 M1605.2,749 H1627.8 M1605.2,1074.3 H1627.8"/>
<rect x="1593.4" y="896.3" width="46.2" height="104.7" fill="#b9ddae" stroke-width="2.4"/>
<line x1="1593.4" y1="947.3" x2="1639.6" y2="947.3" stroke-width="2.4"/>
</g>
<g stroke="#231f20" stroke-width="2.5" fill="none">
<path d="M1712.3,831 V935.3 M1712.3,1028.7 V1063 M1701,831 H1723.6 M1701,1063 H1723.6"/>
<rect x="1689.2" y="935.3" width="46.2" height="93.4" fill="#eb2428" stroke-width="2.4"/>
<line x1="1689.2" y1="992.3" x2="1735.4" y2="992.3" stroke-width="2.4"/>
</g>
<g stroke="#231f20" stroke-width="2.5" fill="none">
<path d="M1792,813 V936.3 M1792,1024.7 V1076 M1780.7,813 H1803.3 M1780.7,1076 H1803.3"/>
<rect x="1768.9" y="936.3" width="46.2" height="88.4" fill="#f69b82" stroke-width="2.4"/>
<line x1="1768.9" y1="992.7" x2="1815.1" y2="992.7" stroke-width="2.4"/>
</g>
<g stroke="#231f20" stroke-width="2.5" fill="none">
<path d="M1888.2,905.7 V976.7 M1888.2,1031.3 V1079 M1876.9,905.7 H1899.5 M1876.9,1079 H1899.5"/>
<rect x="1865.1" y="976.7" width="46.2" height="54.6" fill="#3b56a6" stroke-width="2.4"/>
<line x1="1865.1" y1="1010.3" x2="1911.3" y2="1010.3" stroke-width="2.4"/>
</g>
<g stroke="#231f20" stroke-width="2.5" fill="none">
<path d="M1967.7,887.7 V977.3 M1967.7,1038.7 V1076.7 M1956.4,887.7 H1979 M1956.4,1076.7 H1979"/>
<rect x="1944.6" y="977.3" width="46.2" height="61.4" fill="#9599cf" stroke-width="2.4"/>
<line x1="1944.6" y1="1008" x2="1990.8" y2="1008" stroke-width="2.4"/>
</g>
<text x="1505.6" y="1130" font-family='"Liberation Sans", Arial, Helvetica, sans-serif' font-size="23.5" fill="#231f20" textLength="62.8" lengthAdjust="spacingAndGlyphs">Original</text>
<text x="1581.8" y="1130" font-family='"Liberation Sans", Arial, Helvetica, sans-serif' font-size="23.5" fill="#231f20" textLength="69.5" lengthAdjust="spacingAndGlyphs">Random</text>
<text x="1680.9" y="1130" font-family='"Liberation Sans", Arial, Helvetica, sans-serif' font-size="23.5" fill="#231f20" textLength="62.8" lengthAdjust="spacingAndGlyphs">Original</text>
<text x="1757.2" y="1130" font-family='"Liberation Sans", Arial, Helvetica, sans-serif' font-size="23.5" fill="#231f20" textLength="69.5" lengthAdjust="spacingAndGlyphs">Random</text>
<text x="1856.8" y="1130" font-family='"Liberation Sans", Arial, Helvetica, sans-serif' font-size="23.5" fill="#231f20" textLength="62.8" lengthAdjust="spacingAndGlyphs">Original</text>
<text x="1933" y="1130" font-family='"Liberation Sans", Arial, Helvetica, sans-serif' font-size="23.5" fill="#231f20" textLength="69.5" lengthAdjust="spacingAndGlyphs">Random</text>
<g stroke="#231f20" fill="none">
<line x1="1480.1" y1="1272" x2="1480.1" y2="1641.8" stroke-width="2.0"/>
<line x1="1480.1" y1="1272.7" x2="1484.6" y2="1272.7" stroke-width="1.6"/>
<line x1="1480.1" y1="1318.7" x2="1484.6" y2="1318.7" stroke-width="1.6"/>
<line x1="1480.1" y1="1364.8" x2="1484.6" y2="1364.8" stroke-width="1.6"/>
<line x1="1480.1" y1="1410.8" x2="1484.6" y2="1410.8" stroke-width="1.6"/>
<line x1="1480.1" y1="1456.8" x2="1484.6" y2="1456.8" stroke-width="1.6"/>
<line x1="1480.1" y1="1502.9" x2="1484.6" y2="1502.9" stroke-width="1.6"/>
<line x1="1480.1" y1="1548.9" x2="1484.6" y2="1548.9" stroke-width="1.6"/>
<line x1="1480.1" y1="1595" x2="1484.6" y2="1595" stroke-width="1.6"/>
<line x1="1480.1" y1="1641" x2="1484.6" y2="1641" stroke-width="1.6"/>
</g>
<text x="1467.8" y="1285.2" font-family='"Liberation Sans", Arial, Helvetica, sans-serif' font-size="28.5" fill="#231f20" text-anchor="end">.4</text>
<text x="1467.8" y="1371.8" font-family='"Liberation Sans", Arial, Helvetica, sans-serif' font-size="28.5" fill="#231f20" text-anchor="end">.3</text>
<text x="1467.8" y="1463.4" font-family='"Liberation Sans", Arial, Helvetica, sans-serif' font-size="28.5" fill="#231f20" text-anchor="end">.2</text>
<text x="1467.8" y="1550.8" font-family='"Liberation Sans", Arial, Helvetica, sans-serif' font-size="28.5" fill="#231f20" text-anchor="end">.1</text>
<text x="1467.8" y="1643.3" font-family='"Liberation Sans", Arial, Helvetica, sans-serif' font-size="28.5" fill="#231f20" text-anchor="end">0</text>
<text transform="translate(1404.7,1457.3) rotate(-90)" font-family='"Liberation Sans", Arial, Helvetica, sans-serif' font-size="32" fill="#231f20" text-anchor="middle">R<tspan font-size="17" dy="12.3" dx="1.5" stroke="#231f20" stroke-width="0.3">n:m</tspan></text>
<g stroke="#231f20" stroke-width="2.5" fill="none">
<path d="M1537,1276 V1432.7 M1537,1547.7 V1628.3 M1525.7,1276 H1548.3 M1525.7,1628.3 H1548.3"/>
<rect x="1513.9" y="1432.7" width="46.2" height="115" fill="#72c267" stroke-width="2.4"/>
<line x1="1513.9" y1="1509.3" x2="1560.1" y2="1509.3" stroke-width="2.4"/>
</g>
<g stroke="#231f20" stroke-width="2.5" fill="none">
<path d="M1616.5,1330.7 V1453.7 M1616.5,1555 V1637 M1605.2,1330.7 H1627.8 M1605.2,1637 H1627.8"/>
<rect x="1593.4" y="1453.7" width="46.2" height="101.3" fill="#b9ddae" stroke-width="2.4"/>
<line x1="1593.4" y1="1507" x2="1639.6" y2="1507" stroke-width="2.4"/>
</g>
<g stroke="#231f20" stroke-width="2.5" fill="none">
<path d="M1712.3,1438.3 V1514 M1712.3,1594.3 V1636.3 M1701,1438.3 H1723.6 M1701,1636.3 H1723.6"/>
<rect x="1689.2" y="1514" width="46.2" height="80.3" fill="#eb2428" stroke-width="2.4"/>
<line x1="1689.2" y1="1560" x2="1735.4" y2="1560" stroke-width="2.4"/>
</g>
<g stroke="#231f20" stroke-width="2.5" fill="none">
<path d="M1792,1395 V1503.7 M1792,1581.7 V1640.7 M1780.7,1395 H1803.3 M1780.7,1640.7 H1803.3"/>
<rect x="1768.9" y="1503.7" width="46.2" height="78" fill="#f69b82" stroke-width="2.4"/>
<line x1="1768.9" y1="1543" x2="1815.1" y2="1543" stroke-width="2.4"/>
</g>
<g stroke="#231f20" stroke-width="2.5" fill="none">
<path d="M1888.2,1466.3 V1537 M1888.2,1589 V1640.3 M1876.9,1466.3 H1899.5 M1876.9,1640.3 H1899.5"/>
<rect x="1865.1" y="1537" width="46.2" height="52" fill="#3b56a6" stroke-width="2.4"/>
<line x1="1865.1" y1="1560" x2="1911.3" y2="1560" stroke-width="2.4"/>
</g>
<g stroke="#231f20" stroke-width="2.5" fill="none">
<path d="M1967.7,1456.7 V1530.7 M1967.7,1588.3 V1640 M1956.4,1456.7 H1979 M1956.4,1640 H1979"/>
<rect x="1944.6" y="1530.7" width="46.2" height="57.6" fill="#9599cf" stroke-width="2.4"/>
<line x1="1944.6" y1="1561" x2="1990.8" y2="1561" stroke-width="2.4"/>
</g>
<text x="1505.6" y="1687.7" font-family='"Liberation Sans", Arial, Helvetica, sans-serif' font-size="23.5" fill="#231f20" textLength="62.8" lengthAdjust="spacingAndGlyphs">Original</text>
<text x="1581.8" y="1687.7" font-family='"Liberation Sans", Arial, Helvetica, sans-serif' font-size="23.5" fill="#231f20" textLength="69.5" lengthAdjust="spacingAndGlyphs">Random</text>
<text x="1680.9" y="1687.7" font-family='"Liberation Sans", Arial, Helvetica, sans-serif' font-size="23.5" fill="#231f20" textLength="62.8" lengthAdjust="spacingAndGlyphs">Original</text>
<text x="1757.2" y="1687.7" font-family='"Liberation Sans", Arial, Helvetica, sans-serif' font-size="23.5" fill="#231f20" textLength="69.5" lengthAdjust="spacingAndGlyphs">Random</text>
<text x="1856.8" y="1687.7" font-family='"Liberation Sans", Arial, Helvetica, sans-serif' font-size="23.5" fill="#231f20" textLength="62.8" lengthAdjust="spacingAndGlyphs">Original</text>
<text x="1933" y="1687.7" font-family='"Liberation Sans", Arial, Helvetica, sans-serif' font-size="23.5" fill="#231f20" textLength="69.5" lengthAdjust="spacingAndGlyphs">Random</text>
</svg>
</body></html>
